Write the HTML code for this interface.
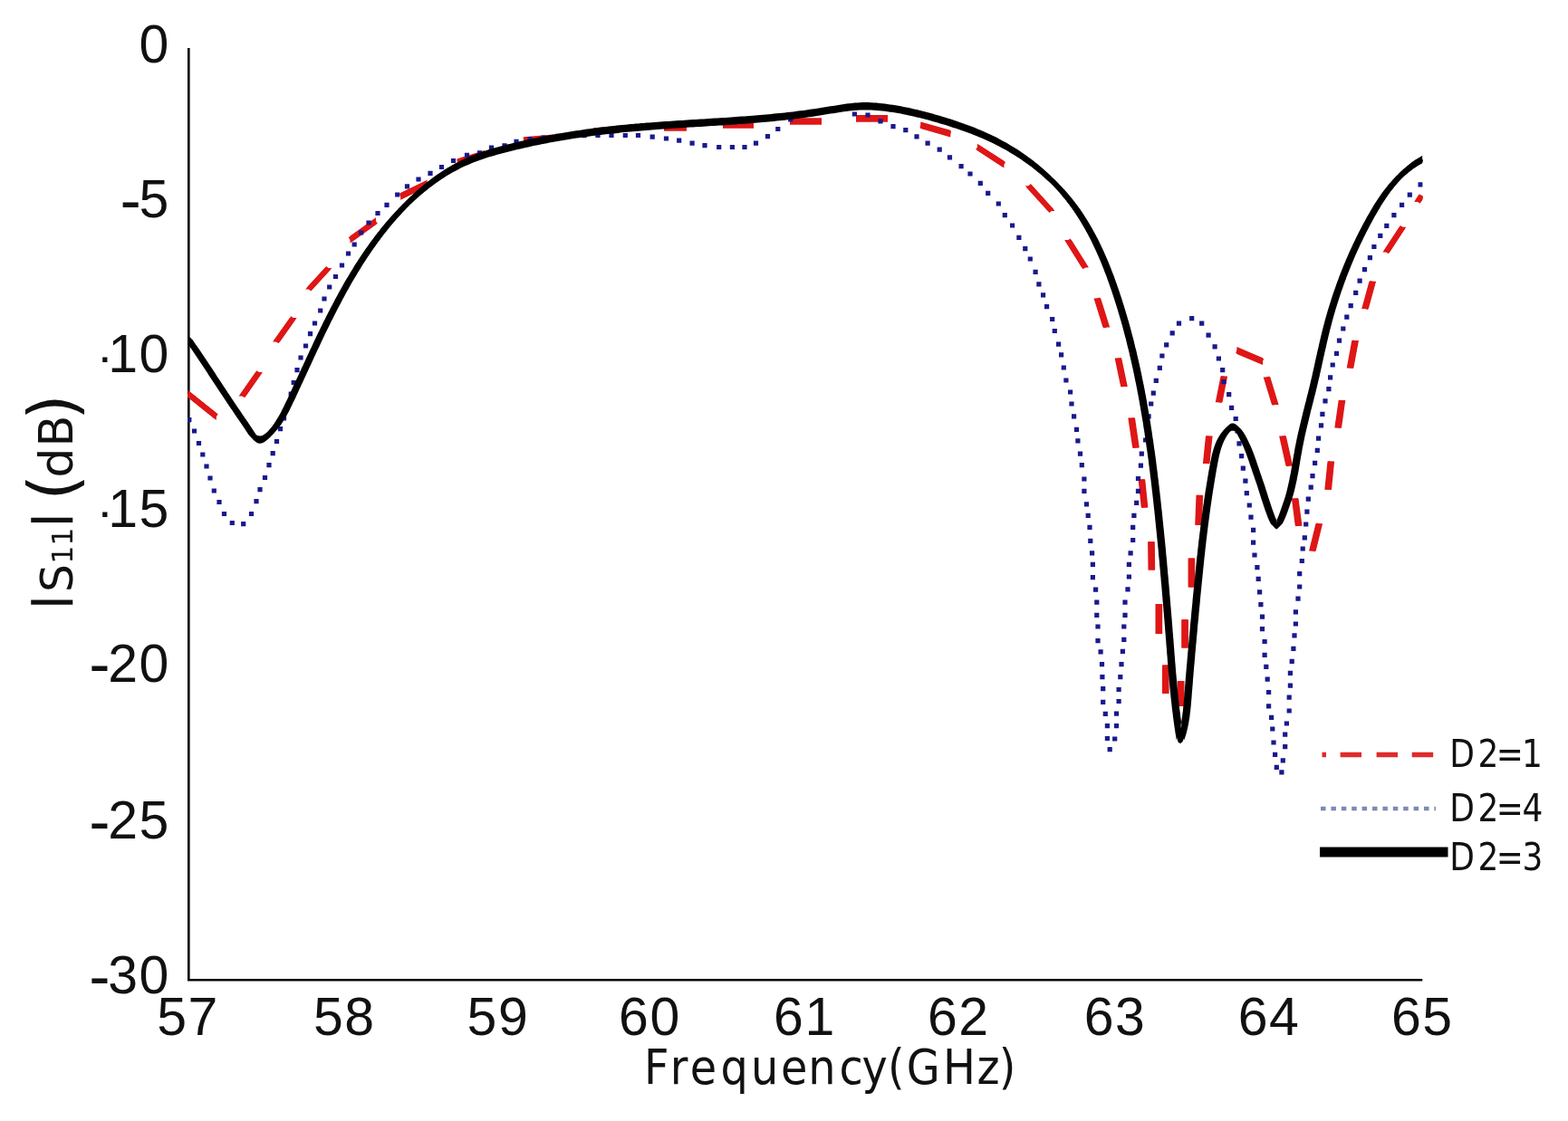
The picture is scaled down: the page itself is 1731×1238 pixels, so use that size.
<!DOCTYPE html>
<html lang="en"><head><meta charset="utf-8"><title>Chart</title>
<style>html,body{margin:0;padding:0;background:#fff}body{width:1731px;height:1238px;overflow:hidden}svg{display:block}.t{font-family:"Liberation Sans",Arial,sans-serif;font-size:59px;fill:#111}.l{font-family:"DejaVu Sans","Liberation Sans",sans-serif;fill:#111}</style></head><body>
<svg width="1731" height="1238" viewBox="0 0 1731 1238">
<rect width="1731" height="1238" fill="#fff"/>
<path d="M208.3 53.0V1082.3H1570.3" fill="none" stroke="#000" stroke-width="2.6" stroke-linejoin="miter"/>
<clipPath id="p"><rect x="207" y="40" width="1363.6" height="1041"/></clipPath>
<g clip-path="url(#p)">
<path d="M207.5 431.1L238.8 456.1L238.8 463.9L207.5 438.9ZM263.6 437.5L282.1 411.0L289.9 411.0L271.4 437.5ZM301.1 377.5L319.9 351.0L327.6 351.0L308.9 377.5ZM337.1 319.5L358.6 296.0L366.4 296.0L344.9 319.5ZM386.5 260.8L415.0 240.3L415.0 248.0L386.5 268.6ZM442.2 213.1L471.6 198.7L471.6 206.3L442.2 220.8ZM505.0 175.2L535.0 166.1L535.0 173.8L505.0 182.9ZM578.0 151.2L611.0 148.6L611.0 156.2L578.0 158.9ZM655.0 141.2L684.0 139.4L684.0 147.1L655.0 148.9ZM733.0 137.0L758.0 137.0L758.0 144.7L733.0 144.7ZM798.0 134.2L832.0 134.2L832.0 141.8L798.0 141.8ZM872.0 130.2L907.0 130.2L907.0 137.8L872.0 137.8ZM945.0 127.0L980.0 127.0L980.0 134.7L945.0 134.7ZM1016.3 134.4L1049.3 143.8L1049.3 151.5L1016.3 142.1ZM1078.9 158.7L1108.4 177.8L1108.4 185.4L1078.9 166.3ZM1131.8 205.2L1157.0 233.0L1164.6 233.0L1139.4 205.2ZM1175.2 265.1L1194.2 295.5L1201.9 295.5L1182.8 265.1ZM1207.5 329.4L1217.5 361.5L1225.2 361.5L1215.2 329.4ZM1230.6 395.6L1237.2 426.9L1244.8 426.9L1238.2 395.6ZM1245.3 461.6L1250.2 494.6L1257.8 494.6L1253.0 461.6ZM1256.6 529.4L1259.8 560.6L1267.4 560.6L1264.2 529.4ZM1267.1 598.2L1267.5 629.5L1275.2 629.5L1274.8 598.2ZM1275.5 666.9L1275.5 699.9L1283.2 699.9L1283.2 666.9ZM1283.0 734.6L1283.0 765.9L1290.6 765.9L1290.6 734.6ZM1299.8 780.0L1299.8 752.0L1307.5 752.0L1307.5 780.0ZM1304.2 715.5L1304.2 684.2L1311.9 684.2L1311.9 715.5ZM1311.6 648.6L1311.6 616.5L1319.2 616.5L1319.2 648.6ZM1319.2 579.8L1320.5 546.8L1328.2 546.8L1326.8 579.8ZM1327.9 512.0L1331.0 481.6L1338.6 481.6L1335.5 512.0ZM1341.8 444.3L1347.5 415.6L1355.1 415.6L1349.5 444.3ZM1365.4 383.1L1394.0 395.2L1394.0 403.0L1365.4 390.9ZM1394.7 416.5L1404.0 446.9L1411.6 446.9L1402.3 416.5ZM1412.1 481.6L1419.5 514.6L1427.2 514.6L1419.8 481.6ZM1425.9 550.4L1429.8 580.8L1437.5 580.8L1433.5 550.4ZM1445.0 608.6L1452.5 578.2L1460.1 578.2L1452.7 608.6ZM1462.3 540.8L1465.5 509.6L1473.1 509.6L1470.0 540.8ZM1473.3 472.5L1477.7 442.1L1485.3 442.1L1481.0 472.5ZM1486.7 406.5L1492.3 376.1L1500.0 376.1L1494.3 406.5ZM1503.2 341.1L1511.5 310.7L1519.1 310.7L1510.8 341.1ZM1526.5 278.5L1544.7 250.7L1552.3 250.7L1534.1 278.5ZM1561.2 223.0L1565.7 216.0L1573.3 216.0L1568.8 223.0Z" fill="#df1616"/>
<path d="M207.5 435.0L238.8 460.0M267.5 437.5L286.0 411.0M305.0 377.5L323.8 351.0M341.0 319.5L362.5 296.0M386.5 264.7L415.0 244.2M442.2 216.9L471.6 202.5M505.0 179.1L535.0 169.9M578.0 155.1L611.0 152.4M655.0 145.1L684.0 143.2M733.0 140.8L758.0 140.8M798.0 138.0L832.0 138.0M872.0 134.0L907.0 134.0M945.0 130.8L980.0 130.8M1016.3 138.2L1049.3 147.7M1078.9 162.5L1108.4 181.6M1135.6 205.2L1160.8 233.0M1179.0 265.1L1198.1 295.5M1211.3 329.4L1221.4 361.5M1234.4 395.6L1241.0 426.9M1249.1 461.6L1254.0 494.6M1260.4 529.4L1263.6 560.6M1270.9 598.2L1271.4 629.5M1279.3 666.9L1279.3 699.9M1286.8 734.6L1286.8 765.9M1303.7 780.0L1303.7 752.0M1308.1 715.5L1308.1 684.2M1315.4 648.6L1315.4 616.5M1323.0 579.8L1324.4 546.8M1331.7 512.0L1334.8 481.6M1345.6 444.3L1351.3 415.6M1365.4 387.0L1394.0 399.1M1398.5 416.5L1407.8 446.9M1415.9 481.6L1423.4 514.6M1429.7 550.4L1433.7 580.8M1448.8 608.6L1456.3 578.2M1466.1 540.8L1469.3 509.6M1477.1 472.5L1481.5 442.1M1490.5 406.5L1496.2 376.1M1507.0 341.1L1515.3 310.7M1530.3 278.5L1548.5 250.7M1565.0 223.0L1569.5 216.0" fill="none" stroke="#df1616" stroke-width="6.2"/>
<path d="M206.2 461.1h5.2v5.2h-5.2zM211.9 473.4h5.2v5.2h-5.2zM216.9 486.9h5.2v5.2h-5.2zM221.2 499.4h5.2v5.2h-5.2zM225.4 512.4h5.2v5.2h-5.2zM229.4 525.4h5.2v5.2h-5.2zM233.7 539.4h5.2v5.2h-5.2zM239.4 551.9h5.2v5.2h-5.2zM244.9 564.9h5.2v5.2h-5.2zM253.7 574.9h5.2v5.2h-5.2zM266.1 576.1h5.2v5.2h-5.2zM274.9 564.9h5.2v5.2h-5.2zM280.4 551.1h5.2v5.2h-5.2zM284.4 538.1h5.2v5.2h-5.2zM289.9 524.9h5.2v5.2h-5.2zM294.4 511.1h5.2v5.2h-5.2zM298.6 498.1h5.2v5.2h-5.2zM302.9 484.9h5.2v5.2h-5.2zM306.9 471.1h5.2v5.2h-5.2zM310.9 459.4h5.2v5.2h-5.2zM314.9 447.4h5.2v5.2h-5.2zM318.6 432.4h5.2v5.2h-5.2zM321.6 419.9h5.2v5.2h-5.2zM325.4 406.1h5.2v5.2h-5.2zM329.4 392.4h5.2v5.2h-5.2zM334.9 379.4h5.2v5.2h-5.2zM339.9 366.1h5.2v5.2h-5.2zM344.9 354.4h5.2v5.2h-5.2zM351.1 340.4h5.2v5.2h-5.2zM355.4 327.4h5.2v5.2h-5.2zM361.1 314.4h5.2v5.2h-5.2zM367.9 302.9h5.2v5.2h-5.2zM374.9 290.4h5.2v5.2h-5.2zM381.9 277.4h5.2v5.2h-5.2zM388.6 267.4h5.2v5.2h-5.2zM396.1 254.4h5.2v5.2h-5.2zM404.4 243.4h5.2v5.2h-5.2zM414.4 232.9h5.2v5.2h-5.2zM424.4 223.7h5.2v5.2h-5.2zM436.1 212.4h5.2v5.2h-5.2zM446.9 203.2h5.2v5.2h-5.2zM459.4 195.4h5.2v5.2h-5.2zM472.4 188.7h5.2v5.2h-5.2zM484.9 181.9h5.2v5.2h-5.2zM497.9 174.9h5.2v5.2h-5.2zM512.9 168.7h5.2v5.2h-5.2zM526.9 166.2h5.2v5.2h-5.2zM539.9 160.4h5.2v5.2h-5.2zM554.4 158.2h5.2v5.2h-5.2zM567.4 153.7h5.2v5.2h-5.2zM582.4 150.9h5.2v5.2h-5.2zM597.4 149.4h5.2v5.2h-5.2zM613.0 147.7h5.2v5.2h-5.2zM627.4 147.4h5.2v5.2h-5.2zM642.4 147.1h5.2v5.2h-5.2zM657.4 146.9h5.2v5.2h-5.2zM672.4 146.9h5.2v5.2h-5.2zM687.7 146.9h5.2v5.2h-5.2zM701.9 146.9h5.2v5.2h-5.2zM717.6 148.6h5.2v5.2h-5.2zM732.9 150.4h5.2v5.2h-5.2zM747.1 152.6h5.2v5.2h-5.2zM761.5 155.5h5.2v5.2h-5.2zM775.4 158.1h5.2v5.2h-5.2zM791.1 159.9h5.2v5.2h-5.2zM805.8 159.9h5.2v5.2h-5.2zM819.4 159.9h5.2v5.2h-5.2zM831.9 155.5h5.2v5.2h-5.2zM844.9 148.1h5.2v5.2h-5.2zM856.2 139.9h5.2v5.2h-5.2zM870.1 129.4h5.2v5.2h-5.2zM940.8 123.4h5.2v5.2h-5.2zM955.4 124.4h5.2v5.2h-5.2zM969.4 131.2h5.2v5.2h-5.2zM983.4 137.0h5.2v5.2h-5.2zM997.2 141.1h5.2v5.2h-5.2zM1009.4 148.2h5.2v5.2h-5.2zM1021.5 155.5h5.2v5.2h-5.2zM1034.6 162.5h5.2v5.2h-5.2zM1045.9 171.2h5.2v5.2h-5.2zM1058.5 181.1h5.2v5.2h-5.2zM1068.4 189.4h5.2v5.2h-5.2zM1079.7 199.8h5.2v5.2h-5.2zM1088.1 210.8h5.2v5.2h-5.2zM1099.7 222.4h5.2v5.2h-5.2zM1106.7 235.1h5.2v5.2h-5.2zM1115.0 246.4h5.2v5.2h-5.2zM1122.3 259.8h5.2v5.2h-5.2zM1129.2 272.1h5.2v5.2h-5.2zM1134.7 283.4h5.2v5.2h-5.2zM1140.5 297.8h5.2v5.2h-5.2zM1144.3 311.2h5.2v5.2h-5.2zM1149.0 323.3h5.2v5.2h-5.2zM1153.0 336.0h5.2v5.2h-5.2zM1159.1 349.9h5.2v5.2h-5.2zM1161.7 362.9h5.2v5.2h-5.2zM1166.0 377.5h5.2v5.2h-5.2zM1169.0 389.3h5.2v5.2h-5.2zM1171.7 403.4h5.2v5.2h-5.2zM1174.3 417.4h5.2v5.2h-5.2zM1179.0 430.4h5.2v5.2h-5.2zM1180.4 443.4h5.2v5.2h-5.2zM1183.0 457.3h5.2v5.2h-5.2zM1185.9 471.7h5.2v5.2h-5.2zM1187.3 484.2h5.2v5.2h-5.2zM1189.9 498.6h5.2v5.2h-5.2zM1191.7 511.1h5.2v5.2h-5.2zM1194.3 526.4h5.2v5.2h-5.2zM1194.3 539.8h5.2v5.2h-5.2zM1196.9 554.2h5.2v5.2h-5.2zM1198.6 566.7h5.2v5.2h-5.2zM1200.4 579.8h5.2v5.2h-5.2zM1201.2 594.8h5.2v5.2h-5.2zM1203.0 608.3h5.2v5.2h-5.2zM1203.8 620.8h5.2v5.2h-5.2zM1203.8 635.1h5.2v5.2h-5.2zM1207.0 648.6h5.2v5.2h-5.2zM1208.2 662.5h5.2v5.2h-5.2zM1208.2 676.8h5.2v5.2h-5.2zM1209.4 689.4h5.2v5.2h-5.2zM1209.4 705.1h5.2v5.2h-5.2zM1212.5 717.2h5.2v5.2h-5.2zM1213.9 731.1h5.2v5.2h-5.2zM1214.3 745.0h5.2v5.2h-5.2zM1215.1 758.0h5.2v5.2h-5.2zM1215.1 772.8h5.2v5.2h-5.2zM1217.7 785.8h5.2v5.2h-5.2zM1219.8 799.0h5.2v5.2h-5.2zM1219.8 812.9h5.2v5.2h-5.2zM1222.6 825.1h5.2v5.2h-5.2zM1228.1 813.4h5.2v5.2h-5.2zM1229.9 799.0h5.2v5.2h-5.2zM1229.9 785.6h5.2v5.2h-5.2zM1232.5 771.9h5.2v5.2h-5.2zM1232.5 758.9h5.2v5.2h-5.2zM1234.2 745.0h5.2v5.2h-5.2zM1235.4 731.1h5.2v5.2h-5.2zM1236.8 716.7h5.2v5.2h-5.2zM1238.2 703.8h5.2v5.2h-5.2zM1238.2 689.4h5.2v5.2h-5.2zM1239.4 676.8h5.2v5.2h-5.2zM1239.4 662.5h5.2v5.2h-5.2zM1242.4 648.3h5.2v5.2h-5.2zM1243.8 634.4h5.2v5.2h-5.2zM1243.8 620.8h5.2v5.2h-5.2zM1245.5 608.3h5.2v5.2h-5.2zM1248.1 593.9h5.2v5.2h-5.2zM1248.1 579.8h5.2v5.2h-5.2zM1249.3 566.7h5.2v5.2h-5.2zM1252.1 552.8h5.2v5.2h-5.2zM1253.9 539.8h5.2v5.2h-5.2zM1253.9 525.9h5.2v5.2h-5.2zM1256.8 511.5h5.2v5.2h-5.2zM1257.7 498.6h5.2v5.2h-5.2zM1262.0 483.4h5.2v5.2h-5.2zM1263.9 470.4h5.2v5.2h-5.2zM1265.5 457.3h5.2v5.2h-5.2zM1268.1 443.4h5.2v5.2h-5.2zM1270.7 431.6h5.2v5.2h-5.2zM1273.7 417.7h5.2v5.2h-5.2zM1277.7 403.8h5.2v5.2h-5.2zM1280.3 390.4h5.2v5.2h-5.2zM1285.1 378.3h5.2v5.2h-5.2zM1291.6 365.3h5.2v5.2h-5.2zM1298.9 354.6h5.2v5.2h-5.2zM1313.1 349.0h5.2v5.2h-5.2zM1324.1 354.6h5.2v5.2h-5.2zM1331.5 367.6h5.2v5.2h-5.2zM1338.5 380.3h5.2v5.2h-5.2zM1342.8 393.4h5.2v5.2h-5.2zM1347.1 406.1h5.2v5.2h-5.2zM1348.4 419.1h5.2v5.2h-5.2zM1354.1 433.0h5.2v5.2h-5.2zM1357.0 447.7h5.2v5.2h-5.2zM1361.6 459.9h5.2v5.2h-5.2zM1363.4 473.4h5.2v5.2h-5.2zM1365.4 487.2h5.2v5.2h-5.2zM1368.0 501.1h5.2v5.2h-5.2zM1369.7 514.6h5.2v5.2h-5.2zM1372.3 528.5h5.2v5.2h-5.2zM1373.7 542.1h5.2v5.2h-5.2zM1376.7 555.4h5.2v5.2h-5.2zM1378.4 568.5h5.2v5.2h-5.2zM1381.0 582.7h5.2v5.2h-5.2zM1381.0 596.5h5.2v5.2h-5.2zM1382.4 610.4h5.2v5.2h-5.2zM1385.3 624.0h5.2v5.2h-5.2zM1386.6 636.8h5.2v5.2h-5.2zM1388.0 651.2h5.2v5.2h-5.2zM1389.3 665.1h5.2v5.2h-5.2zM1390.9 678.5h5.2v5.2h-5.2zM1390.9 692.0h5.2v5.2h-5.2zM1393.5 705.9h5.2v5.2h-5.2zM1393.5 720.7h5.2v5.2h-5.2zM1395.2 733.7h5.2v5.2h-5.2zM1396.6 747.6h5.2v5.2h-5.2zM1398.0 761.9h5.2v5.2h-5.2zM1398.0 777.2h5.2v5.2h-5.2zM1401.0 789.7h5.2v5.2h-5.2zM1402.2 802.4h5.2v5.2h-5.2zM1403.4 817.4h5.2v5.2h-5.2zM1405.0 830.8h5.2v5.2h-5.2zM1406.7 844.7h5.2v5.2h-5.2zM1412.3 850.3h5.2v5.2h-5.2zM1413.7 837.2h5.2v5.2h-5.2zM1416.1 822.1h5.2v5.2h-5.2zM1416.1 808.6h5.2v5.2h-5.2zM1417.8 796.4h5.2v5.2h-5.2zM1420.6 782.4h5.2v5.2h-5.2zM1420.6 767.6h5.2v5.2h-5.2zM1421.8 754.6h5.2v5.2h-5.2zM1421.8 740.7h5.2v5.2h-5.2zM1423.6 727.7h5.2v5.2h-5.2zM1425.3 713.8h5.2v5.2h-5.2zM1426.4 699.2h5.2v5.2h-5.2zM1427.8 686.4h5.2v5.2h-5.2zM1427.8 673.2h5.2v5.2h-5.2zM1430.4 658.6h5.2v5.2h-5.2zM1432.1 645.4h5.2v5.2h-5.2zM1432.1 631.1h5.2v5.2h-5.2zM1434.7 616.9h5.2v5.2h-5.2zM1435.6 603.4h5.2v5.2h-5.2zM1437.7 591.2h5.2v5.2h-5.2zM1439.1 576.4h5.2v5.2h-5.2zM1440.3 562.5h5.2v5.2h-5.2zM1441.7 548.6h5.2v5.2h-5.2zM1444.6 535.6h5.2v5.2h-5.2zM1446.4 523.1h5.2v5.2h-5.2zM1449.0 508.7h5.2v5.2h-5.2zM1451.7 494.7h5.2v5.2h-5.2zM1453.0 481.5h5.2v5.2h-5.2zM1455.9 467.3h5.2v5.2h-5.2zM1457.3 454.7h5.2v5.2h-5.2zM1460.4 440.3h5.2v5.2h-5.2zM1464.3 427.0h5.2v5.2h-5.2zM1466.0 414.3h5.2v5.2h-5.2zM1468.6 400.4h5.2v5.2h-5.2zM1472.9 387.7h5.2v5.2h-5.2zM1475.9 373.5h5.2v5.2h-5.2zM1480.2 360.4h5.2v5.2h-5.2zM1484.2 347.5h5.2v5.2h-5.2zM1488.6 335.0h5.2v5.2h-5.2zM1494.1 320.8h5.2v5.2h-5.2zM1498.5 307.6h5.2v5.2h-5.2zM1503.9 295.0h5.2v5.2h-5.2zM1509.8 282.0h5.2v5.2h-5.2zM1514.3 269.9h5.2v5.2h-5.2zM1521.2 257.7h5.2v5.2h-5.2zM1528.2 246.8h5.2v5.2h-5.2zM1536.3 235.1h5.2v5.2h-5.2zM1545.0 223.8h5.2v5.2h-5.2zM1553.7 212.5h5.2v5.2h-5.2zM1565.5 201.2h5.2v5.2h-5.2z" fill="#19198e"/>
<path d="M208.1 370.7L209.8 373.1L211.5 375.5L213.2 378.0L214.9 380.5L216.5 382.9L218.2 385.4L219.9 387.9L221.6 390.4L223.2 392.9L224.9 395.4L226.6 397.9L228.2 400.4L229.9 403.0L231.6 405.5L233.2 408.0L234.9 410.5L236.5 413.0L238.2 415.6L239.9 418.1L241.5 420.6L243.2 423.1L244.8 425.6L246.5 428.1L248.2 430.6L249.8 433.1L251.5 435.6L253.1 438.1L254.8 440.6L256.4 443.1L258.1 445.5L259.8 448.0L261.4 450.4L263.1 452.9L264.7 455.3L266.4 457.7L268.1 460.2L269.8 462.6L271.5 465.2L273.2 467.7L274.9 470.4L276.7 473.1L278.6 475.8L280.5 478.1L282.6 479.9L284.8 481.1L287.2 481.4L289.7 480.9L292.1 479.6L294.5 477.8L296.9 475.6L299.1 473.3L301.2 471.0L303.2 468.5L305.0 466.1L306.8 463.6L308.5 461.0L310.1 458.5L311.6 455.9L313.1 453.3L314.5 450.6L315.9 448.0L317.2 445.3L318.5 442.6L319.8 439.9L321.0 437.2L322.3 434.5L323.6 431.8L324.8 429.1L326.1 426.4L327.3 423.7L328.6 421.0L329.8 418.3L331.1 415.5L332.3 412.8L333.6 410.1L334.9 407.4L336.1 404.7L337.4 402.0L338.6 399.2L339.9 396.5L341.1 393.8L342.4 391.1L343.6 388.4L344.9 385.7L346.2 382.9L347.4 380.2L348.7 377.5L350.0 374.8L351.3 372.1L352.6 369.4L353.9 366.7L355.2 364.0L356.5 361.3L357.8 358.6L359.1 355.9L360.4 353.2L361.8 350.5L363.1 347.8L364.5 345.1L365.8 342.4L367.2 339.7L368.6 337.1L369.9 334.4L371.3 331.7L372.7 329.1L374.2 326.4L375.6 323.8L377.0 321.1L378.5 318.5L379.9 315.9L381.4 313.2L382.9 310.6L384.4 308.0L385.9 305.4L387.4 302.8L388.9 300.2L390.5 297.6L392.0 295.1L393.6 292.5L395.2 290.0L396.8 287.4L398.4 284.9L400.0 282.4L401.7 279.9L403.3 277.4L405.0 274.9L406.7 272.4L408.4 270.0L410.2 267.5L411.9 265.1L413.7 262.7L415.4 260.2L417.2 257.8L419.0 255.5L420.9 253.1L422.7 250.7L424.6 248.4L426.5 246.1L428.4 243.8L430.3 241.5L432.3 239.2L434.2 237.0L436.2 234.7L438.2 232.5L440.3 230.3L442.3 228.1L444.4 225.9L446.5 223.8L448.6 221.7L450.7 219.5L452.9 217.5L455.1 215.4L457.3 213.3L459.5 211.3L461.8 209.3L464.1 207.3L466.3 205.4L468.7 203.5L471.0 201.6L473.4 199.7L475.7 197.9L478.2 196.1L480.6 194.3L483.0 192.6L485.5 190.9L488.0 189.3L490.5 187.6L493.0 186.0L495.6 184.5L498.2 183.0L500.8 181.5L503.4 180.1L506.1 178.7L508.7 177.3L511.4 176.0L514.1 174.8L516.9 173.6L519.6 172.4L522.4 171.3L525.2 170.2L528.0 169.2L530.8 168.1L533.7 167.2L536.5 166.2L539.4 165.3L542.3 164.4L545.2 163.6L548.1 162.8L551.0 162.0L553.9 161.2L556.8 160.4L559.7 159.6L562.6 158.9L565.6 158.2L568.5 157.5L571.4 156.8L574.3 156.1L577.3 155.4L580.2 154.7L583.1 154.1L586.1 153.5L589.0 152.8L592.0 152.2L594.9 151.6L597.9 151.0L600.8 150.4L603.7 149.9L606.7 149.3L609.6 148.8L612.6 148.2L615.6 147.7L618.5 147.2L621.5 146.7L624.4 146.2L627.4 145.7L630.3 145.2L633.3 144.8L636.3 144.3L639.2 143.9L642.2 143.4L645.2 143.0L648.1 142.6L651.1 142.2L654.1 141.8L657.0 141.4L660.0 141.0L663.0 140.6L666.0 140.3L668.9 139.9L671.9 139.6L674.9 139.3L677.9 138.9L680.9 138.6L683.8 138.3L686.8 138.0L689.8 137.7L692.8 137.4L695.8 137.1L698.8 136.9L701.7 136.6L704.7 136.4L707.7 136.1L710.7 135.9L713.7 135.6L716.7 135.4L719.7 135.2L722.7 134.9L725.7 134.7L728.7 134.5L731.7 134.3L734.7 134.1L737.6 133.9L740.6 133.7L743.6 133.5L746.6 133.3L749.6 133.1L752.6 132.9L755.6 132.7L758.6 132.5L761.6 132.3L764.6 132.1L767.6 131.9L770.6 131.8L773.6 131.6L776.6 131.4L779.6 131.2L782.6 131.0L785.6 130.8L788.6 130.6L791.6 130.5L794.6 130.3L797.6 130.1L800.6 129.9L803.6 129.7L806.6 129.5L809.6 129.3L812.5 129.1L815.5 128.8L818.5 128.6L821.5 128.4L824.5 128.2L827.5 127.9L830.5 127.7L833.5 127.5L836.5 127.2L839.5 127.0L842.5 126.7L845.5 126.4L848.4 126.2L851.4 125.9L854.4 125.6L857.4 125.3L860.4 125.0L863.4 124.7L866.3 124.4L869.3 124.0L872.3 123.7L875.3 123.4L878.3 123.0L881.2 122.6L884.2 122.2L887.2 121.9L890.2 121.5L893.1 121.0L896.1 120.6L899.1 120.2L902.0 119.7L905.0 119.3L908.0 118.8L910.9 118.3L913.9 117.8L916.9 117.3L919.8 116.9L922.8 116.4L925.7 115.9L928.7 115.4L931.7 115.0L934.6 114.6L937.6 114.2L940.6 113.9L943.6 113.6L946.5 113.4L949.5 113.2L952.5 113.1L955.5 113.1L958.5 113.1L961.6 113.2L964.6 113.4L967.6 113.6L970.6 113.9L973.6 114.2L976.6 114.5L979.6 114.9L982.6 115.4L985.6 115.8L988.5 116.3L991.5 116.8L994.5 117.3L997.4 117.9L1000.3 118.5L1003.3 119.1L1006.2 119.7L1009.1 120.4L1012.0 121.1L1014.9 121.8L1017.8 122.5L1020.7 123.2L1023.6 124.0L1026.5 124.8L1029.4 125.6L1032.3 126.4L1035.1 127.2L1038.0 128.1L1040.9 129.0L1043.7 129.8L1046.6 130.7L1049.5 131.6L1052.3 132.6L1055.2 133.5L1058.0 134.5L1060.8 135.4L1063.7 136.4L1066.5 137.4L1069.3 138.5L1072.1 139.5L1074.9 140.6L1077.7 141.7L1080.5 142.9L1083.2 144.0L1086.0 145.2L1088.7 146.4L1091.5 147.7L1094.2 149.0L1096.9 150.3L1099.6 151.6L1102.3 153.0L1104.9 154.4L1107.6 155.9L1110.2 157.3L1112.8 158.8L1115.4 160.4L1118.0 161.9L1120.6 163.5L1123.1 165.1L1125.7 166.8L1128.2 168.5L1130.6 170.2L1133.1 171.9L1135.5 173.7L1138.0 175.5L1140.4 177.3L1142.7 179.2L1145.1 181.1L1147.4 183.0L1149.7 184.9L1152.0 186.9L1154.2 188.9L1156.4 190.9L1158.6 192.9L1160.8 195.0L1162.9 197.1L1165.1 199.2L1167.1 201.4L1169.2 203.6L1171.2 205.8L1173.2 208.0L1175.1 210.2L1177.1 212.5L1179.0 214.8L1180.8 217.2L1182.7 219.5L1184.4 221.9L1186.2 224.3L1187.9 226.7L1189.6 229.1L1191.3 231.6L1192.9 234.1L1194.6 236.6L1196.1 239.1L1197.7 241.7L1199.2 244.2L1200.7 246.8L1202.2 249.4L1203.6 252.0L1205.1 254.7L1206.4 257.3L1207.8 260.0L1209.2 262.6L1210.5 265.3L1211.8 268.0L1213.1 270.8L1214.3 273.5L1215.5 276.2L1216.7 279.0L1217.9 281.8L1219.1 284.6L1220.3 287.3L1221.4 290.1L1222.5 292.9L1223.6 295.8L1224.7 298.6L1225.7 301.4L1226.8 304.3L1227.8 307.1L1228.8 309.9L1229.8 312.8L1230.8 315.7L1231.7 318.5L1232.7 321.4L1233.6 324.3L1234.5 327.1L1235.5 330.0L1236.4 332.9L1237.2 335.8L1238.1 338.6L1239.0 341.5L1239.8 344.4L1240.7 347.3L1241.5 350.2L1242.3 353.1L1243.1 356.0L1243.9 358.9L1244.7 361.8L1245.5 364.7L1246.3 367.6L1247.0 370.5L1247.7 373.4L1248.5 376.3L1249.2 379.2L1249.9 382.1L1250.6 385.1L1251.3 388.0L1252.0 390.9L1252.6 393.8L1253.3 396.7L1254.0 399.7L1254.6 402.6L1255.2 405.5L1255.9 408.4L1256.5 411.4L1257.1 414.3L1257.7 417.2L1258.3 420.2L1258.8 423.1L1259.4 426.1L1260.0 429.0L1260.5 431.9L1261.1 434.9L1261.6 437.8L1262.1 440.8L1262.7 443.7L1263.2 446.7L1263.7 449.6L1264.2 452.6L1264.7 455.5L1265.2 458.5L1265.7 461.5L1266.1 464.4L1266.6 467.4L1267.1 470.3L1267.5 473.3L1268.0 476.3L1268.4 479.2L1268.8 482.2L1269.3 485.2L1269.7 488.1L1270.1 491.1L1270.5 494.1L1270.9 497.0L1271.3 500.0L1271.7 503.0L1272.1 505.9L1272.5 508.9L1272.9 511.9L1273.2 514.9L1273.6 517.8L1274.0 520.8L1274.3 523.8L1274.7 526.8L1275.1 529.8L1275.4 532.7L1275.8 535.7L1276.1 538.7L1276.4 541.7L1276.8 544.7L1277.1 547.6L1277.4 550.6L1277.8 553.6L1278.1 556.6L1278.4 559.6L1278.7 562.6L1279.0 565.6L1279.4 568.5L1279.7 571.5L1280.0 574.5L1280.3 577.5L1280.6 580.5L1280.9 583.5L1281.2 586.5L1281.5 589.5L1281.8 592.4L1282.0 595.4L1282.3 598.4L1282.6 601.4L1282.9 604.4L1283.2 607.4L1283.5 610.4L1283.7 613.4L1284.0 616.4L1284.3 619.4L1284.6 622.4L1284.8 625.3L1285.1 628.3L1285.4 631.3L1285.6 634.3L1285.9 637.3L1286.1 640.3L1286.4 643.3L1286.7 646.3L1286.9 649.3L1287.2 652.3L1287.4 655.3L1287.7 658.3L1287.9 661.2L1288.2 664.2L1288.4 667.2L1288.7 670.2L1288.9 673.2L1289.2 676.2L1289.4 679.2L1289.6 682.2L1289.9 685.2L1290.1 688.2L1290.4 691.2L1290.6 694.2L1290.8 697.2L1291.1 700.1L1291.3 703.1L1291.5 706.1L1291.8 709.1L1292.0 712.1L1292.2 715.1L1292.5 718.1L1292.7 721.1L1292.9 724.1L1293.2 727.1L1293.4 730.1L1293.7 733.0L1293.9 736.0L1294.2 739.0L1294.4 742.0L1294.7 745.0L1295.0 748.0L1295.2 751.0L1295.5 753.9L1295.8 756.9L1296.1 759.9L1296.4 762.9L1296.7 765.9L1297.0 768.9L1297.3 771.8L1297.6 774.8L1298.0 777.8L1298.3 780.8L1298.7 783.7L1299.1 786.7L1299.5 789.7L1299.9 792.7L1300.3 795.6L1300.7 798.6L1301.1 801.6L1301.6 804.6L1302.0 807.5L1302.5 810.5L1303.0 813.5L1304.0 810.6L1304.9 807.7L1305.7 804.8L1306.5 801.8L1307.1 798.9L1307.7 796.0L1308.3 793.0L1308.8 790.1L1309.2 787.1L1309.6 784.2L1310.0 781.2L1310.3 778.2L1310.6 775.3L1310.8 772.3L1311.1 769.3L1311.3 766.3L1311.6 763.3L1311.8 760.3L1312.0 757.3L1312.3 754.3L1312.5 751.3L1312.7 748.3L1313.0 745.3L1313.2 742.3L1313.5 739.3L1313.7 736.3L1314.0 733.3L1314.2 730.3L1314.5 727.3L1314.8 724.3L1315.0 721.3L1315.3 718.3L1315.6 715.3L1315.8 712.2L1316.1 709.2L1316.4 706.2L1316.6 703.2L1316.9 700.2L1317.2 697.2L1317.4 694.2L1317.7 691.2L1318.0 688.2L1318.3 685.2L1318.5 682.2L1318.8 679.2L1319.1 676.2L1319.4 673.2L1319.7 670.2L1319.9 667.2L1320.2 664.2L1320.5 661.2L1320.8 658.2L1321.1 655.2L1321.4 652.2L1321.7 649.3L1321.9 646.3L1322.2 643.3L1322.5 640.3L1322.8 637.3L1323.1 634.4L1323.4 631.4L1323.7 628.4L1324.0 625.4L1324.3 622.4L1324.6 619.5L1324.9 616.5L1325.3 613.5L1325.6 610.5L1325.9 607.6L1326.2 604.6L1326.6 601.6L1326.9 598.6L1327.2 595.7L1327.6 592.7L1327.9 589.7L1328.3 586.7L1328.7 583.8L1329.0 580.8L1329.4 577.8L1329.8 574.8L1330.1 571.9L1330.5 568.9L1330.9 565.9L1331.3 562.9L1331.7 559.9L1332.2 556.9L1332.6 554.0L1333.0 551.0L1333.4 548.0L1333.9 545.0L1334.3 542.0L1334.8 539.0L1335.3 536.0L1335.7 533.0L1336.2 530.0L1336.7 527.0L1337.2 524.0L1337.7 521.0L1338.2 518.0L1338.8 515.0L1339.3 511.9L1339.9 508.9L1340.4 505.9L1341.0 502.9L1341.7 499.9L1342.4 497.0L1343.1 494.1L1344.0 491.2L1344.9 488.4L1346.0 485.6L1347.1 482.9L1348.4 480.3L1349.9 477.8L1351.4 475.4L1353.2 473.1L1355.1 470.9L1357.2 468.8L1359.5 467.5L1362.0 467.5L1364.5 468.8L1366.8 470.9L1368.7 473.5L1370.4 476.4L1372.0 479.3L1373.5 482.2L1374.9 485.1L1376.2 487.9L1377.4 490.6L1378.5 493.4L1379.6 496.1L1380.6 498.8L1381.6 501.5L1382.5 504.3L1383.5 507.0L1384.4 509.8L1385.3 512.6L1386.3 515.4L1387.3 518.3L1388.3 521.2L1389.3 524.1L1390.3 527.0L1391.2 530.0L1392.2 532.9L1393.1 535.7L1394.1 538.6L1394.9 541.4L1395.8 544.2L1396.7 547.0L1397.6 549.8L1398.5 552.6L1399.5 555.5L1400.5 558.3L1401.5 561.3L1402.6 564.2L1403.8 567.3L1405.1 570.4L1406.4 573.3L1407.9 575.4L1409.4 576.1L1410.9 574.9L1412.5 572.5L1413.9 569.6L1415.1 566.6L1416.3 563.6L1417.4 560.6L1418.5 557.6L1419.5 554.8L1420.5 551.9L1421.5 549.1L1422.4 546.3L1423.2 543.5L1424.0 540.6L1424.8 537.8L1425.5 534.9L1426.1 532.0L1426.8 529.1L1427.4 526.1L1428.0 523.2L1428.6 520.2L1429.1 517.3L1429.6 514.3L1430.2 511.3L1430.7 508.4L1431.2 505.4L1431.7 502.4L1432.2 499.4L1432.7 496.4L1433.2 493.5L1433.8 490.5L1434.3 487.5L1434.9 484.6L1435.5 481.6L1436.2 478.7L1436.8 475.7L1437.5 472.8L1438.1 469.9L1438.8 466.9L1439.5 464.0L1440.2 461.1L1440.9 458.2L1441.6 455.2L1442.4 452.3L1443.1 449.4L1443.8 446.5L1444.6 443.6L1445.3 440.7L1446.0 437.8L1446.8 434.9L1447.5 432.0L1448.2 429.1L1449.0 426.1L1449.7 423.2L1450.4 420.3L1451.1 417.4L1451.7 414.5L1452.4 411.5L1453.1 408.6L1453.7 405.7L1454.4 402.7L1455.0 399.8L1455.7 396.8L1456.3 393.9L1457.0 391.0L1457.6 388.0L1458.3 385.1L1458.9 382.1L1459.6 379.2L1460.3 376.3L1460.9 373.3L1461.6 370.4L1462.3 367.5L1463.0 364.6L1463.7 361.6L1464.5 358.7L1465.2 355.8L1466.0 352.9L1466.8 350.0L1467.6 347.1L1468.4 344.2L1469.2 341.3L1470.1 338.4L1470.9 335.6L1471.8 332.7L1472.7 329.8L1473.6 327.0L1474.5 324.1L1475.5 321.3L1476.5 318.4L1477.4 315.6L1478.4 312.7L1479.4 309.9L1480.5 307.1L1481.5 304.3L1482.6 301.5L1483.6 298.7L1484.7 295.9L1485.8 293.1L1487.0 290.3L1488.1 287.5L1489.3 284.7L1490.4 282.0L1491.6 279.2L1492.8 276.4L1494.1 273.7L1495.3 271.0L1496.6 268.2L1497.8 265.5L1499.1 262.8L1500.4 260.1L1501.8 257.4L1503.1 254.7L1504.5 252.0L1505.8 249.3L1507.2 246.6L1508.6 243.9L1510.1 241.3L1511.5 238.6L1513.0 236.0L1514.5 233.3L1516.0 230.7L1517.5 228.1L1519.0 225.5L1520.6 222.9L1522.2 220.4L1523.8 217.8L1525.5 215.3L1527.2 212.8L1528.9 210.4L1530.6 208.0L1532.4 205.6L1534.3 203.2L1536.1 200.9L1538.1 198.6L1540.0 196.4L1542.0 194.2L1544.1 192.0L1546.2 189.9L1548.3 187.8L1550.6 185.8L1552.8 183.9L1555.1 182.0L1557.5 180.1L1559.9 178.3L1562.4 176.6L1565.0 175.0L1567.6 173.4L1570.3 171.8L1570.3 180.2L1567.6 181.7L1565.0 183.3L1562.4 184.9L1559.9 186.6L1557.5 188.4L1555.1 190.3L1552.8 192.2L1550.6 194.1L1548.3 196.1L1546.2 198.2L1544.1 200.3L1542.0 202.5L1540.0 204.7L1538.1 206.9L1536.1 209.2L1534.3 211.5L1532.4 213.9L1530.6 216.3L1528.9 218.7L1527.2 221.1L1525.5 223.6L1523.8 226.1L1522.2 228.7L1520.6 231.2L1519.0 233.8L1517.5 236.4L1516.0 239.0L1514.5 241.6L1513.0 244.3L1511.5 246.9L1510.1 249.6L1508.6 252.2L1507.2 254.9L1505.8 257.6L1504.5 260.3L1503.1 263.0L1501.8 265.7L1500.4 268.4L1499.1 271.1L1497.8 273.8L1496.6 276.5L1495.3 279.3L1494.1 282.0L1492.8 284.7L1491.6 287.5L1490.4 290.3L1489.3 293.0L1488.1 295.8L1487.0 298.6L1485.8 301.4L1484.7 304.2L1483.6 307.0L1482.6 309.8L1481.5 312.6L1480.5 315.4L1479.4 318.2L1478.4 321.0L1477.4 323.9L1476.5 326.7L1475.5 329.6L1474.5 332.4L1473.6 335.3L1472.7 338.1L1471.8 341.0L1470.9 343.9L1470.1 346.7L1469.2 349.6L1468.4 352.5L1467.6 355.4L1466.8 358.3L1466.0 361.2L1465.2 364.1L1464.5 367.0L1463.7 369.9L1463.0 372.9L1462.3 375.8L1461.6 378.7L1460.9 381.6L1460.3 384.6L1459.6 387.5L1458.9 390.4L1458.3 393.4L1457.6 396.3L1457.0 399.3L1456.3 402.2L1455.7 405.1L1455.0 408.1L1454.4 411.0L1453.7 414.0L1453.1 416.9L1452.4 419.8L1451.7 422.8L1451.1 425.7L1450.4 428.6L1449.7 431.5L1449.0 434.4L1448.2 437.4L1447.5 440.3L1446.8 443.2L1446.0 446.1L1445.3 449.0L1444.6 451.9L1443.8 454.8L1443.1 457.7L1442.4 460.6L1441.6 463.5L1440.9 466.5L1440.2 469.4L1439.5 472.3L1438.8 475.2L1438.1 478.2L1437.5 481.1L1436.8 484.0L1436.2 487.0L1435.5 489.9L1434.9 492.9L1434.3 495.8L1433.8 498.8L1433.2 501.8L1432.7 504.7L1432.2 507.7L1431.7 510.7L1431.2 513.7L1430.7 516.7L1430.2 519.6L1429.6 522.6L1429.1 525.6L1428.6 528.5L1428.0 531.5L1427.4 534.4L1426.8 537.4L1426.1 540.3L1425.5 543.2L1424.8 546.1L1424.0 548.9L1423.2 551.8L1422.4 554.6L1421.5 557.4L1420.5 560.2L1419.5 563.1L1418.5 565.9L1417.4 568.9L1416.3 571.9L1415.1 574.9L1413.9 577.9L1412.5 580.8L1410.9 583.2L1409.4 584.4L1407.9 583.7L1406.4 581.6L1405.1 578.7L1403.8 575.6L1402.6 572.5L1401.5 569.6L1400.5 566.6L1399.5 563.8L1398.5 560.9L1397.6 558.1L1396.7 555.3L1395.8 552.5L1394.9 549.7L1394.1 546.9L1393.1 544.0L1392.2 541.2L1391.2 538.3L1390.3 535.3L1389.3 532.4L1388.3 529.5L1387.3 526.6L1386.3 523.7L1385.3 520.9L1384.4 518.1L1383.5 515.3L1382.5 512.6L1381.6 509.8L1380.6 507.1L1379.6 504.4L1378.5 501.7L1377.4 498.9L1376.2 496.2L1374.9 493.4L1373.5 490.5L1372.0 487.6L1370.4 484.7L1368.7 481.8L1366.8 479.2L1364.5 477.1L1362.0 475.8L1359.5 475.8L1357.2 477.1L1355.1 479.2L1353.2 481.4L1351.4 483.7L1349.9 486.1L1348.4 488.6L1347.1 491.2L1346.0 493.9L1344.9 496.7L1344.0 499.5L1343.1 502.4L1342.4 505.3L1341.7 508.2L1341.0 511.2L1340.4 514.2L1339.9 517.2L1339.3 520.2L1338.8 523.3L1338.2 526.3L1337.7 529.3L1337.2 532.3L1336.7 535.3L1336.2 538.3L1335.7 541.3L1335.3 544.3L1334.8 547.3L1334.3 550.3L1333.9 553.3L1333.4 556.3L1333.0 559.3L1332.6 562.3L1332.2 565.2L1331.7 568.2L1331.3 571.2L1330.9 574.2L1330.5 577.2L1330.1 580.2L1329.8 583.1L1329.4 586.1L1329.0 589.1L1328.7 592.1L1328.3 595.0L1327.9 598.0L1327.6 601.0L1327.2 604.0L1326.9 606.9L1326.6 609.9L1326.2 612.9L1325.9 615.9L1325.6 618.8L1325.3 621.8L1324.9 624.8L1324.6 627.8L1324.3 630.7L1324.0 633.7L1323.7 636.7L1323.4 639.7L1323.1 642.7L1322.8 645.6L1322.5 648.6L1322.2 651.6L1321.9 654.6L1321.7 657.6L1321.4 660.5L1321.1 663.5L1320.8 666.5L1320.5 669.5L1320.2 672.5L1319.9 675.5L1319.7 678.5L1319.4 681.5L1319.1 684.5L1318.8 687.5L1318.5 690.5L1318.3 693.5L1318.0 696.5L1317.7 699.5L1317.4 702.5L1317.2 705.5L1316.9 708.5L1316.6 711.5L1316.4 714.5L1316.1 717.5L1315.8 720.5L1315.6 723.6L1315.3 726.6L1315.0 729.6L1314.8 732.6L1314.5 735.6L1314.2 738.6L1314.0 741.6L1313.7 744.6L1313.5 747.6L1313.2 750.6L1313.0 753.6L1312.7 756.6L1312.5 759.6L1312.3 762.6L1312.0 765.6L1311.8 768.6L1311.6 771.6L1311.3 774.6L1311.1 777.6L1310.8 780.6L1310.6 783.6L1310.3 786.5L1310.0 789.5L1309.6 792.5L1309.2 795.4L1308.8 798.4L1308.3 801.3L1307.7 804.3L1307.1 807.2L1306.5 810.1L1305.7 813.1L1304.9 816.0L1304.0 818.9L1303.0 821.8L1302.5 818.8L1302.0 815.8L1301.6 812.9L1301.1 809.9L1300.7 806.9L1300.3 803.9L1299.9 801.0L1299.5 798.0L1299.1 795.0L1298.7 792.0L1298.3 789.1L1298.0 786.1L1297.6 783.1L1297.3 780.1L1297.0 777.2L1296.7 774.2L1296.4 771.2L1296.1 768.2L1295.8 765.2L1295.5 762.2L1295.2 759.3L1295.0 756.3L1294.7 753.3L1294.4 750.3L1294.2 747.3L1293.9 744.3L1293.7 741.3L1293.4 738.4L1293.2 735.4L1292.9 732.4L1292.7 729.4L1292.5 726.4L1292.2 723.4L1292.0 720.4L1291.8 717.4L1291.5 714.4L1291.3 711.4L1291.1 708.4L1290.8 705.5L1290.6 702.5L1290.4 699.5L1290.1 696.5L1289.9 693.5L1289.6 690.5L1289.4 687.5L1289.2 684.5L1288.9 681.5L1288.7 678.5L1288.4 675.5L1288.2 672.5L1287.9 669.5L1287.7 666.6L1287.4 663.6L1287.2 660.6L1286.9 657.6L1286.7 654.6L1286.4 651.6L1286.1 648.6L1285.9 645.6L1285.6 642.6L1285.4 639.6L1285.1 636.6L1284.8 633.6L1284.6 630.7L1284.3 627.7L1284.0 624.7L1283.7 621.7L1283.5 618.7L1283.2 615.7L1282.9 612.7L1282.6 609.7L1282.3 606.7L1282.0 603.7L1281.8 600.7L1281.5 597.8L1281.2 594.8L1280.9 591.8L1280.6 588.8L1280.3 585.8L1280.0 582.8L1279.7 579.8L1279.4 576.8L1279.0 573.9L1278.7 570.9L1278.4 567.9L1278.1 564.9L1277.8 561.9L1277.4 558.9L1277.1 555.9L1276.8 553.0L1276.4 550.0L1276.1 547.0L1275.8 544.0L1275.4 541.0L1275.1 538.1L1274.7 535.1L1274.3 532.1L1274.0 529.1L1273.6 526.1L1273.2 523.2L1272.9 520.2L1272.5 517.2L1272.1 514.2L1271.7 511.3L1271.3 508.3L1270.9 505.3L1270.5 502.4L1270.1 499.4L1269.7 496.4L1269.3 493.5L1268.8 490.5L1268.4 487.5L1268.0 484.6L1267.5 481.6L1267.1 478.6L1266.6 475.7L1266.1 472.7L1265.7 469.8L1265.2 466.8L1264.7 463.8L1264.2 460.9L1263.7 457.9L1263.2 455.0L1262.7 452.0L1262.1 449.1L1261.6 446.1L1261.1 443.2L1260.5 440.2L1260.0 437.3L1259.4 434.4L1258.8 431.4L1258.3 428.5L1257.7 425.5L1257.1 422.6L1256.5 419.7L1255.9 416.7L1255.2 413.8L1254.6 410.9L1254.0 408.0L1253.3 405.0L1252.6 402.1L1252.0 399.2L1251.3 396.3L1250.6 393.4L1249.9 390.4L1249.2 387.5L1248.5 384.6L1247.7 381.7L1247.0 378.8L1246.3 375.9L1245.5 373.0L1244.7 370.1L1243.9 367.2L1243.1 364.3L1242.3 361.4L1241.5 358.5L1240.7 355.6L1239.8 352.7L1239.0 349.8L1238.1 346.9L1237.2 344.1L1236.4 341.2L1235.5 338.3L1234.5 335.4L1233.6 332.6L1232.7 329.7L1231.7 326.8L1230.8 324.0L1229.8 321.1L1228.8 318.2L1227.8 315.4L1226.8 312.6L1225.7 309.7L1224.7 306.9L1223.6 304.1L1222.5 301.2L1221.4 298.4L1220.3 295.6L1219.1 292.9L1217.9 290.1L1216.7 287.3L1215.5 284.5L1214.3 281.8L1213.1 279.1L1211.8 276.3L1210.5 273.6L1209.2 270.9L1207.8 268.3L1206.4 265.6L1205.1 263.0L1203.6 260.3L1202.2 257.7L1200.7 255.1L1199.2 252.5L1197.7 250.0L1196.1 247.4L1194.6 244.9L1192.9 242.4L1191.3 239.9L1189.6 237.4L1187.9 235.0L1186.2 232.6L1184.4 230.2L1182.7 227.8L1180.8 225.5L1179.0 223.1L1177.1 220.8L1175.1 218.5L1173.2 216.3L1171.2 214.1L1169.2 211.9L1167.1 209.7L1165.1 207.5L1162.9 205.4L1160.8 203.3L1158.6 201.2L1156.4 199.2L1154.2 197.2L1152.0 195.2L1149.7 193.2L1147.4 191.3L1145.1 189.4L1142.7 187.5L1140.4 185.6L1138.0 183.8L1135.5 182.0L1133.1 180.2L1130.6 178.5L1128.2 176.8L1125.7 175.1L1123.1 173.4L1120.6 171.8L1118.0 170.2L1115.4 168.7L1112.8 167.1L1110.2 165.6L1107.6 164.2L1104.9 162.7L1102.3 161.3L1099.6 159.9L1096.9 158.6L1094.2 157.3L1091.5 156.0L1088.7 154.7L1086.0 153.5L1083.2 152.3L1080.5 151.2L1077.7 150.0L1074.9 148.9L1072.1 147.8L1069.3 146.8L1066.5 145.7L1063.7 144.7L1060.8 143.7L1058.0 142.8L1055.2 141.8L1052.3 140.9L1049.5 139.9L1046.6 139.0L1043.7 138.1L1040.9 137.3L1038.0 136.4L1035.1 135.5L1032.3 134.7L1029.4 133.9L1026.5 133.1L1023.6 132.3L1020.7 131.5L1017.8 130.8L1014.9 130.1L1012.0 129.4L1009.1 128.7L1006.2 128.0L1003.3 127.4L1000.3 126.8L997.4 126.2L994.5 125.6L991.5 125.1L988.5 124.6L985.6 124.1L982.6 123.7L979.6 123.2L976.6 122.8L973.6 122.5L970.6 122.2L967.6 121.9L964.6 121.7L961.6 121.5L958.5 121.4L955.5 121.4L952.5 121.4L949.5 121.5L946.5 121.7L943.6 121.9L940.6 122.2L937.6 122.5L934.6 122.9L931.7 123.3L928.7 123.7L925.7 124.2L922.8 124.7L919.8 125.2L916.9 125.6L913.9 126.1L910.9 126.6L908.0 127.1L905.0 127.6L902.0 128.0L899.1 128.5L896.1 128.9L893.1 129.3L890.2 129.8L887.2 130.2L884.2 130.5L881.2 130.9L878.3 131.3L875.3 131.7L872.3 132.0L869.3 132.3L866.3 132.7L863.4 133.0L860.4 133.3L857.4 133.6L854.4 133.9L851.4 134.2L848.4 134.5L845.5 134.7L842.5 135.0L839.5 135.3L836.5 135.5L833.5 135.8L830.5 136.0L827.5 136.2L824.5 136.5L821.5 136.7L818.5 136.9L815.5 137.1L812.5 137.4L809.6 137.6L806.6 137.8L803.6 138.0L800.6 138.2L797.6 138.4L794.6 138.6L791.6 138.8L788.6 138.9L785.6 139.1L782.6 139.3L779.6 139.5L776.6 139.7L773.6 139.9L770.6 140.1L767.6 140.2L764.6 140.4L761.6 140.6L758.6 140.8L755.6 141.0L752.6 141.2L749.6 141.4L746.6 141.6L743.6 141.8L740.6 142.0L737.6 142.2L734.7 142.4L731.7 142.6L728.7 142.8L725.7 143.0L722.7 143.2L719.7 143.5L716.7 143.7L713.7 143.9L710.7 144.2L707.7 144.4L704.7 144.7L701.7 144.9L698.8 145.2L695.8 145.4L692.8 145.7L689.8 146.0L686.8 146.3L683.8 146.6L680.9 146.9L677.9 147.2L674.9 147.6L671.9 147.9L668.9 148.2L666.0 148.6L663.0 148.9L660.0 149.3L657.0 149.7L654.1 150.1L651.1 150.5L648.1 150.9L645.2 151.3L642.2 151.7L639.2 152.2L636.3 152.6L633.3 153.1L630.3 153.5L627.4 154.0L624.4 154.5L621.5 155.0L618.5 155.5L615.6 156.0L612.6 156.5L609.6 157.1L606.7 157.6L603.7 158.2L600.8 158.7L597.9 159.3L594.9 159.9L592.0 160.5L589.0 161.1L586.1 161.8L583.1 162.4L580.2 163.0L577.3 163.7L574.3 164.4L571.4 165.1L568.5 165.8L565.6 166.5L562.6 167.2L559.7 167.9L556.8 168.7L553.9 169.5L551.0 170.3L548.1 171.1L545.2 171.9L542.3 172.7L539.4 173.6L536.5 174.5L533.7 175.5L530.8 176.4L528.0 177.5L525.2 178.5L522.4 179.6L519.6 180.7L516.9 181.9L514.1 183.1L511.4 184.3L508.7 185.6L506.1 187.0L503.4 188.4L500.8 189.8L498.2 191.3L495.6 192.8L493.0 194.3L490.5 195.9L488.0 197.6L485.5 199.2L483.0 200.9L480.6 202.6L478.2 204.4L475.7 206.2L473.4 208.0L471.0 209.9L468.7 211.8L466.3 213.7L464.1 215.6L461.8 217.6L459.5 219.6L457.3 221.6L455.1 223.7L452.9 225.8L450.7 227.8L448.6 230.0L446.5 232.1L444.4 234.2L442.3 236.4L440.3 238.6L438.2 240.8L436.2 243.0L434.2 245.3L432.3 247.5L430.3 249.8L428.4 252.1L426.5 254.4L424.6 256.7L422.7 259.0L420.9 261.4L419.0 263.8L417.2 266.1L415.4 268.5L413.7 271.0L411.9 273.4L410.2 275.8L408.4 278.3L406.7 280.7L405.0 283.2L403.3 285.7L401.7 288.2L400.0 290.7L398.4 293.2L396.8 295.7L395.2 298.3L393.6 300.8L392.0 303.4L390.5 305.9L388.9 308.5L387.4 311.1L385.9 313.7L384.4 316.3L382.9 318.9L381.4 321.5L379.9 324.2L378.5 326.8L377.0 329.4L375.6 332.1L374.2 334.7L372.7 337.4L371.3 340.0L369.9 342.7L368.6 345.4L367.2 348.0L365.8 350.7L364.5 353.4L363.1 356.1L361.8 358.8L360.4 361.5L359.1 364.2L357.8 366.9L356.5 369.6L355.2 372.3L353.9 375.0L352.6 377.7L351.3 380.4L350.0 383.1L348.7 385.8L347.4 388.5L346.2 391.2L344.9 394.0L343.6 396.7L342.4 399.4L341.1 402.1L339.9 404.8L338.6 407.5L337.4 410.3L336.1 413.0L334.9 415.7L333.6 418.4L332.3 421.1L331.1 423.8L329.8 426.6L328.6 429.3L327.3 432.0L326.1 434.7L324.8 437.4L323.6 440.1L322.3 442.8L321.0 445.5L319.8 448.2L318.5 450.9L317.2 453.6L315.9 456.3L314.5 458.9L313.1 461.6L311.6 464.2L310.1 466.8L308.5 469.3L306.8 471.9L305.0 474.4L303.2 476.8L301.2 479.3L299.1 481.6L296.9 483.9L294.5 486.1L292.1 487.9L289.7 489.2L287.2 489.7L284.8 489.4L282.6 488.2L280.5 486.4L278.6 484.1L276.7 481.4L274.9 478.7L273.2 476.0L271.5 473.5L269.8 470.9L268.1 468.5L266.4 466.0L264.7 463.6L263.1 461.2L261.4 458.7L259.8 456.3L258.1 453.8L256.4 451.4L254.8 448.9L253.1 446.4L251.5 443.9L249.8 441.4L248.2 438.9L246.5 436.4L244.8 433.9L243.2 431.4L241.5 428.9L239.9 426.4L238.2 423.9L236.5 421.3L234.9 418.8L233.2 416.3L231.6 413.8L229.9 411.3L228.2 408.7L226.6 406.2L224.9 403.7L223.2 401.2L221.6 398.7L219.9 396.2L218.2 393.7L216.5 391.2L214.9 388.8L213.2 386.3L211.5 383.8L209.8 381.4L208.1 378.9ZM203.9 374.8L205.6 377.2L207.3 379.7L209.0 382.2L210.7 384.6L212.4 387.1L214.1 389.6L215.7 392.1L217.4 394.6L219.1 397.1L220.8 399.6L222.4 402.1L224.1 404.6L225.8 407.1L227.4 409.6L229.1 412.1L230.7 414.7L232.4 417.2L234.1 419.7L235.7 422.2L237.4 424.7L239.0 427.3L240.7 429.8L242.3 432.3L244.0 434.8L245.7 437.3L247.3 439.8L249.0 442.3L250.6 444.7L252.3 447.2L254.0 449.7L255.6 452.1L257.3 454.6L258.9 457.0L260.6 459.4L262.3 461.9L263.9 464.3L265.6 466.8L267.3 469.3L269.1 471.9L270.8 474.6L272.6 477.3L274.4 479.9L276.4 482.2L278.5 484.1L280.7 485.2L283.1 485.5L285.5 485.0L288.0 483.8L290.4 482.0L292.7 479.8L294.9 477.5L297.0 475.1L299.0 472.7L300.9 470.2L302.7 467.7L304.3 465.2L305.9 462.6L307.5 460.0L308.9 457.4L310.4 454.8L311.7 452.1L313.0 449.4L314.3 446.8L315.6 444.1L316.9 441.4L318.2 438.7L319.4 436.0L320.7 433.2L321.9 430.5L323.2 427.8L324.4 425.1L325.7 422.4L326.9 419.7L328.2 417.0L329.5 414.3L330.7 411.5L332.0 408.8L333.2 406.1L334.5 403.4L335.7 400.7L337.0 398.0L338.2 395.2L339.5 392.5L340.8 389.8L342.0 387.1L343.3 384.4L344.6 381.7L345.8 378.9L347.1 376.2L348.4 373.5L349.7 370.8L351.0 368.1L352.3 365.4L353.6 362.7L355.0 360.0L356.3 357.3L357.6 354.6L359.0 351.9L360.3 349.3L361.7 346.6L363.0 343.9L364.4 341.2L365.8 338.5L367.2 335.9L368.6 333.2L370.0 330.6L371.4 327.9L372.9 325.3L374.3 322.6L375.8 320.0L377.2 317.4L378.7 314.8L380.2 312.1L381.7 309.5L383.2 307.0L384.8 304.4L386.3 301.8L387.9 299.2L389.5 296.7L391.0 294.1L392.6 291.6L394.3 289.0L395.9 286.5L397.5 284.0L399.2 281.5L400.9 279.0L402.6 276.6L404.3 274.1L406.0 271.7L407.7 269.2L409.5 266.8L411.3 264.4L413.1 262.0L414.9 259.6L416.7 257.3L418.6 254.9L420.4 252.6L422.3 250.2L424.2 247.9L426.2 245.6L428.1 243.4L430.1 241.1L432.1 238.9L434.1 236.7L436.1 234.4L438.2 232.3L440.2 230.1L442.3 227.9L444.5 225.8L446.6 223.7L448.8 221.6L450.9 219.5L453.2 217.5L455.4 215.5L457.6 213.5L459.9 211.5L462.2 209.6L464.5 207.6L466.9 205.7L469.2 203.9L471.6 202.1L474.0 200.3L476.4 198.5L478.9 196.8L481.4 195.1L483.8 193.4L486.4 191.8L488.9 190.2L491.5 188.6L494.0 187.1L496.6 185.7L499.3 184.2L501.9 182.8L504.6 181.5L507.3 180.2L510.0 178.9L512.7 177.7L515.5 176.6L518.2 175.4L521.0 174.3L523.8 173.3L526.7 172.3L529.5 171.3L532.4 170.4L535.2 169.5L538.1 168.6L541.0 167.7L543.9 166.9L546.8 166.1L549.7 165.3L552.6 164.5L555.6 163.8L558.5 163.1L561.4 162.3L564.3 161.6L567.3 160.9L570.2 160.2L573.1 159.6L576.1 158.9L579.0 158.2L581.9 157.6L584.9 157.0L587.8 156.4L590.8 155.8L593.7 155.2L596.6 154.6L599.6 154.0L602.5 153.5L605.5 152.9L608.4 152.4L611.4 151.8L614.4 151.3L617.3 150.8L620.3 150.3L623.2 149.8L626.2 149.4L629.2 148.9L632.1 148.5L635.1 148.0L638.0 147.6L641.0 147.1L644.0 146.7L647.0 146.3L649.9 145.9L652.9 145.5L655.9 145.2L658.8 144.8L661.8 144.4L664.8 144.1L667.8 143.7L670.7 143.4L673.7 143.1L676.7 142.8L679.7 142.5L682.7 142.2L685.7 141.9L688.6 141.6L691.6 141.3L694.6 141.0L697.6 140.8L700.6 140.5L703.6 140.3L706.6 140.0L709.6 139.8L712.5 139.5L715.5 139.3L718.5 139.1L721.5 138.9L724.5 138.6L727.5 138.4L730.5 138.2L733.5 138.0L736.5 137.8L739.5 137.6L742.5 137.4L745.5 137.2L748.5 137.0L751.5 136.8L754.5 136.7L757.5 136.5L760.5 136.3L763.5 136.1L766.5 135.9L769.5 135.7L772.4 135.5L775.4 135.4L778.4 135.2L781.4 135.0L784.4 134.8L787.4 134.6L790.4 134.4L793.4 134.2L796.4 134.0L799.4 133.8L802.4 133.6L805.4 133.4L808.4 133.2L811.4 133.0L814.4 132.8L817.4 132.6L820.4 132.3L823.4 132.1L826.4 131.9L829.3 131.6L832.3 131.4L835.3 131.1L838.3 130.9L841.3 130.6L844.3 130.3L847.3 130.0L850.3 129.7L853.2 129.5L856.2 129.1L859.2 128.8L862.2 128.5L865.2 128.2L868.2 127.8L871.1 127.5L874.1 127.1L877.1 126.8L880.1 126.4L883.0 126.0L886.0 125.6L889.0 125.2L892.0 124.8L894.9 124.3L897.9 123.9L900.9 123.4L903.8 123.0L906.8 122.5L909.7 122.0L912.7 121.5L915.7 121.0L918.6 120.5L921.6 120.0L924.6 119.6L927.5 119.1L930.5 118.7L933.5 118.4L936.4 118.0L939.4 117.7L942.4 117.5L945.4 117.3L948.4 117.2L951.4 117.2L954.4 117.2L957.4 117.3L960.4 117.5L963.4 117.7L966.4 118.0L969.4 118.3L972.5 118.7L975.5 119.1L978.4 119.5L981.4 120.0L984.4 120.4L987.4 121.0L990.3 121.5L993.3 122.1L996.2 122.6L999.1 123.2L1002.1 123.9L1005.0 124.5L1007.9 125.2L1010.8 125.9L1013.7 126.6L1016.6 127.4L1019.5 128.2L1022.4 128.9L1025.2 129.7L1028.1 130.6L1031.0 131.4L1033.9 132.2L1036.7 133.1L1039.6 134.0L1042.4 134.9L1045.3 135.8L1048.2 136.7L1051.0 137.7L1053.8 138.6L1056.7 139.6L1059.5 140.6L1062.3 141.6L1065.1 142.6L1068.0 143.7L1070.8 144.8L1073.5 145.9L1076.3 147.0L1079.1 148.2L1081.8 149.4L1084.6 150.6L1087.3 151.8L1090.1 153.1L1092.8 154.4L1095.5 155.8L1098.1 157.2L1100.8 158.6L1103.4 160.0L1106.1 161.5L1108.7 163.0L1111.3 164.5L1113.9 166.1L1116.4 167.7L1119.0 169.3L1121.5 170.9L1124.0 172.6L1126.5 174.3L1129.0 176.1L1131.4 177.8L1133.8 179.6L1136.2 181.5L1138.6 183.3L1140.9 185.2L1143.3 187.1L1145.6 189.0L1147.8 191.0L1150.1 193.0L1152.3 195.0L1154.5 197.1L1156.7 199.1L1158.8 201.2L1160.9 203.4L1163.0 205.5L1165.0 207.7L1167.1 209.9L1169.0 212.1L1171.0 214.4L1172.9 216.7L1174.8 219.0L1176.7 221.3L1178.5 223.7L1180.3 226.0L1182.1 228.4L1183.8 230.8L1185.5 233.3L1187.2 235.8L1188.8 238.2L1190.4 240.7L1192.0 243.3L1193.5 245.8L1195.1 248.4L1196.6 251.0L1198.0 253.6L1199.5 256.2L1200.9 258.8L1202.3 261.5L1203.7 264.1L1205.0 266.8L1206.3 269.5L1207.6 272.2L1208.9 274.9L1210.2 277.7L1211.4 280.4L1212.6 283.2L1213.8 285.9L1215.0 288.7L1216.1 291.5L1217.2 294.3L1218.3 297.1L1219.4 299.9L1220.5 302.7L1221.6 305.6L1222.6 308.4L1223.6 311.2L1224.6 314.1L1225.6 316.9L1226.6 319.8L1227.6 322.7L1228.5 325.5L1229.5 328.4L1230.4 331.3L1231.3 334.2L1232.2 337.0L1233.1 339.9L1234.0 342.8L1234.8 345.7L1235.7 348.6L1236.5 351.5L1237.4 354.3L1238.2 357.2L1239.0 360.1L1239.8 363.0L1240.6 365.9L1241.3 368.8L1242.1 371.7L1242.9 374.6L1243.6 377.5L1244.3 380.5L1245.0 383.4L1245.8 386.3L1246.5 389.2L1247.1 392.1L1247.8 395.0L1248.5 398.0L1249.2 400.9L1249.8 403.8L1250.5 406.7L1251.1 409.7L1251.7 412.6L1252.3 415.5L1252.9 418.5L1253.5 421.4L1254.1 424.3L1254.7 427.3L1255.3 430.2L1255.8 433.2L1256.4 436.1L1256.9 439.0L1257.5 442.0L1258.0 444.9L1258.5 447.9L1259.0 450.8L1259.5 453.8L1260.0 456.7L1260.5 459.7L1261.0 462.6L1261.5 465.6L1262.0 468.6L1262.4 471.5L1262.9 474.5L1263.4 477.4L1263.8 480.4L1264.2 483.4L1264.7 486.3L1265.1 489.3L1265.5 492.3L1265.9 495.2L1266.4 498.2L1266.8 501.2L1267.2 504.1L1267.6 507.1L1268.0 510.1L1268.3 513.1L1268.7 516.0L1269.1 519.0L1269.5 522.0L1269.8 525.0L1270.2 528.0L1270.6 530.9L1270.9 533.9L1271.3 536.9L1271.6 539.9L1272.0 542.9L1272.3 545.8L1272.6 548.8L1273.0 551.8L1273.3 554.8L1273.6 557.8L1273.9 560.8L1274.3 563.7L1274.6 566.7L1274.9 569.7L1275.2 572.7L1275.5 575.7L1275.8 578.7L1276.1 581.7L1276.4 584.6L1276.7 587.6L1277.0 590.6L1277.3 593.6L1277.6 596.6L1277.9 599.6L1278.2 602.6L1278.5 605.6L1278.8 608.6L1279.0 611.5L1279.3 614.5L1279.6 617.5L1279.9 620.5L1280.1 623.5L1280.4 626.5L1280.7 629.5L1280.9 632.5L1281.2 635.5L1281.5 638.5L1281.7 641.5L1282.0 644.5L1282.3 647.4L1282.5 650.4L1282.8 653.4L1283.0 656.4L1283.3 659.4L1283.5 662.4L1283.8 665.4L1284.0 668.4L1284.3 671.4L1284.5 674.4L1284.8 677.4L1285.0 680.4L1285.3 683.4L1285.5 686.3L1285.7 689.3L1286.0 692.3L1286.2 695.3L1286.4 698.3L1286.7 701.3L1286.9 704.3L1287.2 707.3L1287.4 710.3L1287.6 713.3L1287.9 716.3L1288.1 719.3L1288.3 722.2L1288.6 725.2L1288.8 728.2L1289.0 731.2L1289.3 734.2L1289.5 737.2L1289.8 740.2L1290.0 743.2L1290.3 746.2L1290.5 749.1L1290.8 752.1L1291.1 755.1L1291.3 758.1L1291.6 761.1L1291.9 764.1L1292.2 767.0L1292.5 770.0L1292.8 773.0L1293.2 776.0L1293.5 779.0L1293.8 781.9L1294.2 784.9L1294.6 787.9L1294.9 790.9L1295.3 793.8L1295.7 796.8L1296.1 799.8L1296.5 802.8L1297.0 805.7L1297.4 808.7L1297.9 811.7L1298.4 814.6L1298.8 817.6L1299.8 814.7L1300.8 811.8L1301.6 808.9L1302.3 806.0L1303.0 803.1L1303.6 800.1L1304.1 797.2L1304.6 794.2L1305.1 791.3L1305.4 788.3L1305.8 785.4L1306.1 782.4L1306.4 779.4L1306.7 776.4L1306.9 773.4L1307.2 770.4L1307.4 767.5L1307.6 764.5L1307.9 761.5L1308.1 758.5L1308.4 755.5L1308.6 752.5L1308.8 749.5L1309.1 746.5L1309.3 743.5L1309.6 740.5L1309.8 737.4L1310.1 734.4L1310.4 731.4L1310.6 728.4L1310.9 725.4L1311.1 722.4L1311.4 719.4L1311.7 716.4L1311.9 713.4L1312.2 710.4L1312.5 707.4L1312.7 704.4L1313.0 701.4L1313.3 698.4L1313.6 695.3L1313.8 692.3L1314.1 689.3L1314.4 686.3L1314.7 683.3L1315.0 680.3L1315.2 677.3L1315.5 674.3L1315.8 671.3L1316.1 668.4L1316.4 665.4L1316.6 662.4L1316.9 659.4L1317.2 656.4L1317.5 653.4L1317.8 650.4L1318.1 647.4L1318.4 644.5L1318.7 641.5L1319.0 638.5L1319.3 635.5L1319.6 632.5L1319.9 629.6L1320.2 626.6L1320.5 623.6L1320.8 620.6L1321.1 617.7L1321.4 614.7L1321.8 611.7L1322.1 608.7L1322.4 605.8L1322.8 602.8L1323.1 599.8L1323.4 596.8L1323.8 593.9L1324.1 590.9L1324.5 587.9L1324.9 584.9L1325.2 582.0L1325.6 579.0L1326.0 576.0L1326.4 573.0L1326.8 570.0L1327.2 567.1L1327.6 564.1L1328.0 561.1L1328.4 558.1L1328.9 555.1L1329.3 552.1L1329.7 549.1L1330.2 546.1L1330.6 543.1L1331.1 540.2L1331.6 537.2L1332.1 534.1L1332.6 531.1L1333.1 528.1L1333.6 525.1L1334.1 522.1L1334.6 519.1L1335.2 516.1L1335.7 513.1L1336.3 510.0L1336.9 507.0L1337.5 504.1L1338.2 501.1L1339.0 498.2L1339.8 495.3L1340.8 492.5L1341.8 489.8L1343.0 487.1L1344.3 484.5L1345.7 482.0L1347.3 479.5L1349.0 477.2L1350.9 475.0L1353.0 473.0L1355.4 471.6L1357.9 471.7L1360.4 472.9L1362.6 475.0L1364.6 477.7L1366.3 480.6L1367.9 483.5L1369.4 486.4L1370.7 489.2L1372.0 492.0L1373.2 494.8L1374.3 497.5L1375.4 500.2L1376.4 503.0L1377.4 505.7L1378.4 508.4L1379.3 511.2L1380.2 513.9L1381.2 516.7L1382.1 519.6L1383.1 522.4L1384.1 525.3L1385.1 528.3L1386.1 531.2L1387.1 534.1L1388.1 537.0L1389.0 539.9L1389.9 542.7L1390.8 545.5L1391.7 548.4L1392.6 551.2L1393.5 554.0L1394.4 556.8L1395.3 559.6L1396.3 562.5L1397.4 565.4L1398.5 568.4L1399.6 571.4L1400.9 574.5L1402.3 577.5L1403.7 579.6L1405.2 580.2L1406.8 579.1L1408.3 576.7L1409.7 573.8L1411.0 570.8L1412.2 567.7L1413.3 564.7L1414.3 561.8L1415.3 558.9L1416.3 556.1L1417.3 553.3L1418.2 550.5L1419.1 547.6L1419.9 544.8L1420.6 541.9L1421.3 539.0L1422.0 536.1L1422.6 533.2L1423.3 530.3L1423.8 527.3L1424.4 524.4L1425.0 521.4L1425.5 518.5L1426.0 515.5L1426.5 512.5L1427.0 509.5L1427.5 506.5L1428.0 503.6L1428.6 500.6L1429.1 497.6L1429.6 494.6L1430.2 491.7L1430.8 488.7L1431.4 485.8L1432.0 482.8L1432.6 479.9L1433.3 476.9L1434.0 474.0L1434.7 471.1L1435.4 468.2L1436.1 465.2L1436.8 462.3L1437.5 459.4L1438.2 456.5L1438.9 453.6L1439.7 450.7L1440.4 447.8L1441.2 444.8L1441.9 441.9L1442.6 439.0L1443.4 436.1L1444.1 433.2L1444.8 430.3L1445.5 427.4L1446.2 424.5L1446.9 421.5L1447.6 418.6L1448.3 415.7L1448.9 412.7L1449.6 409.8L1450.2 406.9L1450.9 403.9L1451.5 401.0L1452.2 398.1L1452.8 395.1L1453.5 392.2L1454.1 389.2L1454.8 386.3L1455.5 383.4L1456.1 380.4L1456.8 377.5L1457.5 374.6L1458.2 371.6L1458.9 368.7L1459.6 365.8L1460.3 362.9L1461.1 360.0L1461.9 357.1L1462.6 354.2L1463.4 351.3L1464.2 348.4L1465.1 345.5L1465.9 342.6L1466.8 339.7L1467.7 336.8L1468.6 334.0L1469.5 331.1L1470.4 328.3L1471.3 325.4L1472.3 322.6L1473.3 319.7L1474.3 316.9L1475.3 314.1L1476.3 311.2L1477.4 308.4L1478.4 305.6L1479.5 302.8L1480.6 300.0L1481.7 297.2L1482.8 294.4L1484.0 291.6L1485.1 288.9L1486.3 286.1L1487.5 283.3L1488.7 280.6L1489.9 277.8L1491.2 275.1L1492.4 272.4L1493.7 269.6L1495.0 266.9L1496.3 264.2L1497.6 261.5L1499.0 258.8L1500.3 256.1L1501.7 253.4L1503.1 250.8L1504.5 248.1L1505.9 245.4L1507.4 242.8L1508.8 240.1L1510.3 237.5L1511.8 234.9L1513.3 232.3L1514.9 229.7L1516.4 227.1L1518.0 224.5L1519.7 222.0L1521.3 219.5L1523.0 217.0L1524.7 214.5L1526.5 212.1L1528.3 209.7L1530.1 207.4L1532.0 205.0L1533.9 202.8L1535.9 200.5L1537.9 198.3L1539.9 196.2L1542.0 194.0L1544.2 192.0L1546.4 190.0L1548.7 188.0L1551.0 186.1L1553.4 184.3L1555.8 182.5L1558.3 180.8L1560.8 179.1L1563.5 177.5L1566.1 176.0L1574.5 176.0L1571.8 177.5L1569.1 179.1L1566.6 180.8L1564.1 182.5L1561.7 184.3L1559.3 186.1L1557.0 188.0L1554.7 190.0L1552.5 192.0L1550.3 194.0L1548.2 196.2L1546.2 198.3L1544.2 200.5L1542.2 202.8L1540.3 205.0L1538.4 207.4L1536.6 209.7L1534.8 212.1L1533.0 214.5L1531.3 217.0L1529.6 219.5L1528.0 222.0L1526.3 224.5L1524.7 227.1L1523.2 229.7L1521.6 232.3L1520.1 234.9L1518.6 237.5L1517.1 240.1L1515.7 242.8L1514.2 245.4L1512.8 248.1L1511.4 250.8L1510.0 253.4L1508.6 256.1L1507.3 258.8L1505.9 261.5L1504.6 264.2L1503.3 266.9L1502.0 269.6L1500.7 272.4L1499.5 275.1L1498.2 277.8L1497.0 280.6L1495.8 283.3L1494.6 286.1L1493.4 288.9L1492.3 291.6L1491.1 294.4L1490.0 297.2L1488.9 300.0L1487.8 302.8L1486.7 305.6L1485.7 308.4L1484.6 311.2L1483.6 314.1L1482.6 316.9L1481.6 319.7L1480.6 322.6L1479.6 325.4L1478.7 328.3L1477.8 331.1L1476.9 334.0L1476.0 336.8L1475.1 339.7L1474.2 342.6L1473.4 345.5L1472.5 348.4L1471.7 351.3L1470.9 354.2L1470.2 357.1L1469.4 360.0L1468.6 362.9L1467.9 365.8L1467.2 368.7L1466.5 371.6L1465.8 374.6L1465.1 377.5L1464.4 380.4L1463.8 383.4L1463.1 386.3L1462.4 389.2L1461.8 392.2L1461.1 395.1L1460.5 398.1L1459.8 401.0L1459.2 403.9L1458.5 406.9L1457.9 409.8L1457.2 412.7L1456.6 415.7L1455.9 418.6L1455.2 421.5L1454.5 424.5L1453.8 427.4L1453.1 430.3L1452.4 433.2L1451.7 436.1L1450.9 439.0L1450.2 441.9L1449.5 444.8L1448.7 447.8L1448.0 450.7L1447.2 453.6L1446.5 456.5L1445.8 459.4L1445.1 462.3L1444.4 465.2L1443.7 468.2L1443.0 471.1L1442.3 474.0L1441.6 476.9L1440.9 479.9L1440.3 482.8L1439.7 485.8L1439.1 488.7L1438.5 491.7L1437.9 494.6L1437.4 497.6L1436.9 500.6L1436.3 503.6L1435.8 506.5L1435.3 509.5L1434.8 512.5L1434.3 515.5L1433.8 518.5L1433.3 521.4L1432.7 524.4L1432.1 527.3L1431.6 530.3L1430.9 533.2L1430.3 536.1L1429.6 539.0L1428.9 541.9L1428.2 544.8L1427.4 547.6L1426.5 550.5L1425.6 553.3L1424.6 556.1L1423.6 558.9L1422.6 561.8L1421.6 564.7L1420.5 567.7L1419.3 570.8L1418.0 573.8L1416.6 576.7L1415.1 579.1L1413.5 580.2L1412.0 579.6L1410.6 577.5L1409.2 574.5L1407.9 571.4L1406.8 568.4L1405.7 565.4L1404.6 562.5L1403.6 559.6L1402.7 556.8L1401.8 554.0L1400.9 551.2L1400.0 548.4L1399.1 545.5L1398.2 542.7L1397.3 539.9L1396.4 537.0L1395.4 534.1L1394.4 531.2L1393.4 528.3L1392.4 525.3L1391.4 522.4L1390.4 519.6L1389.5 516.7L1388.5 513.9L1387.6 511.2L1386.7 508.4L1385.7 505.7L1384.7 503.0L1383.7 500.2L1382.6 497.5L1381.5 494.8L1380.3 492.0L1379.0 489.2L1377.7 486.4L1376.2 483.5L1374.6 480.6L1372.9 477.7L1370.9 475.0L1368.7 472.9L1366.2 471.7L1363.7 471.6L1361.3 473.0L1359.2 475.0L1357.3 477.2L1355.6 479.5L1354.0 482.0L1352.6 484.5L1351.3 487.1L1350.1 489.8L1349.1 492.5L1348.1 495.3L1347.3 498.2L1346.5 501.1L1345.8 504.1L1345.2 507.0L1344.6 510.0L1344.0 513.1L1343.5 516.1L1342.9 519.1L1342.4 522.1L1341.9 525.1L1341.4 528.1L1340.9 531.1L1340.4 534.1L1339.9 537.2L1339.4 540.2L1338.9 543.1L1338.5 546.1L1338.0 549.1L1337.6 552.1L1337.2 555.1L1336.7 558.1L1336.3 561.1L1335.9 564.1L1335.5 567.1L1335.1 570.0L1334.7 573.0L1334.3 576.0L1333.9 579.0L1333.5 582.0L1333.2 584.9L1332.8 587.9L1332.4 590.9L1332.1 593.9L1331.7 596.8L1331.4 599.8L1331.1 602.8L1330.7 605.8L1330.4 608.7L1330.1 611.7L1329.7 614.7L1329.4 617.7L1329.1 620.6L1328.8 623.6L1328.5 626.6L1328.2 629.6L1327.9 632.5L1327.6 635.5L1327.3 638.5L1327.0 641.5L1326.7 644.5L1326.4 647.4L1326.1 650.4L1325.8 653.4L1325.5 656.4L1325.2 659.4L1324.9 662.4L1324.7 665.4L1324.4 668.4L1324.1 671.3L1323.8 674.3L1323.5 677.3L1323.3 680.3L1323.0 683.3L1322.7 686.3L1322.4 689.3L1322.1 692.3L1321.9 695.3L1321.6 698.4L1321.3 701.4L1321.0 704.4L1320.8 707.4L1320.5 710.4L1320.2 713.4L1320.0 716.4L1319.7 719.4L1319.4 722.4L1319.2 725.4L1318.9 728.4L1318.7 731.4L1318.4 734.4L1318.1 737.4L1317.9 740.5L1317.6 743.5L1317.4 746.5L1317.1 749.5L1316.9 752.5L1316.7 755.5L1316.4 758.5L1316.2 761.5L1315.9 764.5L1315.7 767.5L1315.5 770.4L1315.2 773.4L1315.0 776.4L1314.7 779.4L1314.4 782.4L1314.1 785.4L1313.7 788.3L1313.4 791.3L1312.9 794.2L1312.4 797.2L1311.9 800.1L1311.3 803.1L1310.6 806.0L1309.9 808.9L1309.1 811.8L1308.1 814.7L1307.2 817.6L1306.7 814.6L1306.2 811.7L1305.7 808.7L1305.3 805.7L1304.8 802.8L1304.4 799.8L1304.0 796.8L1303.6 793.8L1303.2 790.9L1302.9 787.9L1302.5 784.9L1302.1 781.9L1301.8 779.0L1301.5 776.0L1301.1 773.0L1300.8 770.0L1300.5 767.0L1300.2 764.1L1299.9 761.1L1299.6 758.1L1299.4 755.1L1299.1 752.1L1298.8 749.1L1298.6 746.2L1298.3 743.2L1298.1 740.2L1297.8 737.2L1297.6 734.2L1297.3 731.2L1297.1 728.2L1296.9 725.2L1296.6 722.2L1296.4 719.3L1296.2 716.3L1295.9 713.3L1295.7 710.3L1295.5 707.3L1295.2 704.3L1295.0 701.3L1294.7 698.3L1294.5 695.3L1294.3 692.3L1294.0 689.3L1293.8 686.3L1293.6 683.4L1293.3 680.4L1293.1 677.4L1292.8 674.4L1292.6 671.4L1292.3 668.4L1292.1 665.4L1291.8 662.4L1291.6 659.4L1291.3 656.4L1291.1 653.4L1290.8 650.4L1290.6 647.4L1290.3 644.5L1290.0 641.5L1289.8 638.5L1289.5 635.5L1289.2 632.5L1289.0 629.5L1288.7 626.5L1288.4 623.5L1288.2 620.5L1287.9 617.5L1287.6 614.5L1287.3 611.5L1287.1 608.6L1286.8 605.6L1286.5 602.6L1286.2 599.6L1285.9 596.6L1285.6 593.6L1285.3 590.6L1285.0 587.6L1284.7 584.6L1284.4 581.7L1284.1 578.7L1283.8 575.7L1283.5 572.7L1283.2 569.7L1282.9 566.7L1282.6 563.7L1282.2 560.8L1281.9 557.8L1281.6 554.8L1281.3 551.8L1280.9 548.8L1280.6 545.8L1280.3 542.9L1279.9 539.9L1279.6 536.9L1279.2 533.9L1278.9 530.9L1278.5 528.0L1278.1 525.0L1277.8 522.0L1277.4 519.0L1277.0 516.0L1276.6 513.1L1276.3 510.1L1275.9 507.1L1275.5 504.1L1275.1 501.2L1274.7 498.2L1274.2 495.2L1273.8 492.3L1273.4 489.3L1273.0 486.3L1272.5 483.4L1272.1 480.4L1271.7 477.4L1271.2 474.5L1270.7 471.5L1270.3 468.6L1269.8 465.6L1269.3 462.6L1268.8 459.7L1268.3 456.7L1267.8 453.8L1267.3 450.8L1266.8 447.9L1266.3 444.9L1265.8 442.0L1265.2 439.0L1264.7 436.1L1264.1 433.2L1263.6 430.2L1263.0 427.3L1262.4 424.3L1261.8 421.4L1261.2 418.5L1260.6 415.5L1260.0 412.6L1259.4 409.7L1258.8 406.7L1258.1 403.8L1257.5 400.9L1256.8 398.0L1256.1 395.0L1255.4 392.1L1254.8 389.2L1254.1 386.3L1253.3 383.4L1252.6 380.5L1251.9 377.5L1251.2 374.6L1250.4 371.7L1249.6 368.8L1248.9 365.9L1248.1 363.0L1247.3 360.1L1246.5 357.2L1245.7 354.3L1244.8 351.5L1244.0 348.6L1243.1 345.7L1242.3 342.8L1241.4 339.9L1240.5 337.0L1239.6 334.2L1238.7 331.3L1237.8 328.4L1236.8 325.5L1235.9 322.7L1234.9 319.8L1233.9 316.9L1232.9 314.1L1231.9 311.2L1230.9 308.4L1229.9 305.6L1228.8 302.7L1227.7 299.9L1226.6 297.1L1225.5 294.3L1224.4 291.5L1223.3 288.7L1222.1 285.9L1220.9 283.2L1219.7 280.4L1218.5 277.7L1217.2 274.9L1215.9 272.2L1214.6 269.5L1213.3 266.8L1212.0 264.1L1210.6 261.5L1209.2 258.8L1207.8 256.2L1206.3 253.6L1204.9 251.0L1203.4 248.4L1201.8 245.8L1200.3 243.3L1198.7 240.7L1197.1 238.2L1195.5 235.8L1193.8 233.3L1192.1 230.8L1190.4 228.4L1188.6 226.0L1186.8 223.7L1185.0 221.3L1183.1 219.0L1181.2 216.7L1179.3 214.4L1177.3 212.1L1175.4 209.9L1173.3 207.7L1171.3 205.5L1169.2 203.4L1167.1 201.2L1165.0 199.1L1162.8 197.1L1160.6 195.0L1158.4 193.0L1156.1 191.0L1153.9 189.0L1151.6 187.1L1149.2 185.2L1146.9 183.3L1144.5 181.5L1142.1 179.6L1139.7 177.8L1137.3 176.1L1134.8 174.3L1132.3 172.6L1129.8 170.9L1127.3 169.3L1124.7 167.7L1122.2 166.1L1119.6 164.5L1117.0 163.0L1114.4 161.5L1111.7 160.0L1109.1 158.6L1106.4 157.2L1103.8 155.8L1101.1 154.4L1098.4 153.1L1095.6 151.8L1092.9 150.6L1090.1 149.4L1087.4 148.2L1084.6 147.0L1081.8 145.9L1079.1 144.8L1076.3 143.7L1073.4 142.6L1070.6 141.6L1067.8 140.6L1065.0 139.6L1062.1 138.6L1059.3 137.7L1056.5 136.7L1053.6 135.8L1050.7 134.9L1047.9 134.0L1045.0 133.1L1042.2 132.2L1039.3 131.4L1036.4 130.6L1033.5 129.7L1030.7 128.9L1027.8 128.2L1024.9 127.4L1022.0 126.6L1019.1 125.9L1016.2 125.2L1013.3 124.5L1010.4 123.9L1007.4 123.2L1004.5 122.6L1001.6 122.1L998.6 121.5L995.7 121.0L992.7 120.4L989.7 120.0L986.7 119.5L983.8 119.1L980.8 118.7L977.7 118.3L974.7 118.0L971.7 117.7L968.7 117.5L965.7 117.3L962.7 117.2L959.7 117.2L956.7 117.2L953.7 117.3L950.7 117.5L947.7 117.7L944.7 118.0L941.8 118.4L938.8 118.7L935.8 119.1L932.9 119.6L929.9 120.0L926.9 120.5L924.0 121.0L921.0 121.5L918.0 122.0L915.1 122.5L912.1 123.0L909.2 123.4L906.2 123.9L903.2 124.3L900.3 124.8L897.3 125.2L894.3 125.6L891.3 126.0L888.4 126.4L885.4 126.8L882.4 127.1L879.4 127.5L876.5 127.8L873.5 128.2L870.5 128.5L867.5 128.8L864.5 129.1L861.5 129.5L858.6 129.7L855.6 130.0L852.6 130.3L849.6 130.6L846.6 130.9L843.6 131.1L840.6 131.4L837.6 131.6L834.7 131.9L831.7 132.1L828.7 132.3L825.7 132.6L822.7 132.8L819.7 133.0L816.7 133.2L813.7 133.4L810.7 133.6L807.7 133.8L804.7 134.0L801.7 134.2L798.7 134.4L795.7 134.6L792.7 134.8L789.7 135.0L786.7 135.2L783.7 135.4L780.7 135.5L777.8 135.7L774.8 135.9L771.8 136.1L768.8 136.3L765.8 136.5L762.8 136.7L759.8 136.8L756.8 137.0L753.8 137.2L750.8 137.4L747.8 137.6L744.8 137.8L741.8 138.0L738.8 138.2L735.8 138.4L732.8 138.6L729.8 138.9L726.8 139.1L723.8 139.3L720.8 139.5L717.9 139.8L714.9 140.0L711.9 140.3L708.9 140.5L705.9 140.8L702.9 141.0L699.9 141.3L696.9 141.6L694.0 141.9L691.0 142.2L688.0 142.5L685.0 142.8L682.0 143.1L679.0 143.4L676.1 143.7L673.1 144.1L670.1 144.4L667.1 144.8L664.2 145.2L661.2 145.5L658.2 145.9L655.3 146.3L652.3 146.7L649.3 147.1L646.3 147.6L643.4 148.0L640.4 148.5L637.5 148.9L634.5 149.4L631.5 149.8L628.6 150.3L625.6 150.8L622.7 151.3L619.7 151.8L616.7 152.4L613.8 152.9L610.8 153.5L607.9 154.0L604.9 154.6L602.0 155.2L599.1 155.8L596.1 156.4L593.2 157.0L590.2 157.6L587.3 158.2L584.4 158.9L581.4 159.6L578.5 160.2L575.6 160.9L572.6 161.6L569.7 162.3L566.8 163.1L563.9 163.8L560.9 164.5L558.0 165.3L555.1 166.1L552.2 166.9L549.3 167.7L546.4 168.6L543.5 169.5L540.7 170.4L537.8 171.3L535.0 172.3L532.1 173.3L529.3 174.3L526.5 175.4L523.8 176.6L521.0 177.7L518.3 178.9L515.6 180.2L512.9 181.5L510.2 182.8L507.6 184.2L504.9 185.7L502.3 187.1L499.8 188.6L497.2 190.2L494.7 191.8L492.1 193.4L489.7 195.1L487.2 196.8L484.7 198.5L482.3 200.3L479.9 202.1L477.5 203.9L475.2 205.7L472.8 207.6L470.5 209.6L468.2 211.5L465.9 213.5L463.7 215.5L461.5 217.5L459.2 219.5L457.1 221.6L454.9 223.7L452.8 225.8L450.6 227.9L448.5 230.1L446.5 232.3L444.4 234.4L442.4 236.7L440.4 238.9L438.4 241.1L436.4 243.4L434.5 245.6L432.5 247.9L430.6 250.2L428.7 252.6L426.9 254.9L425.0 257.3L423.2 259.6L421.4 262.0L419.6 264.4L417.8 266.8L416.0 269.2L414.3 271.7L412.6 274.1L410.9 276.6L409.2 279.0L407.5 281.5L405.8 284.0L404.2 286.5L402.6 289.0L400.9 291.6L399.3 294.1L397.8 296.7L396.2 299.2L394.6 301.8L393.1 304.4L391.5 307.0L390.0 309.5L388.5 312.1L387.0 314.8L385.5 317.4L384.1 320.0L382.6 322.6L381.2 325.3L379.7 327.9L378.3 330.6L376.9 333.2L375.5 335.9L374.1 338.5L372.7 341.2L371.3 343.9L370.0 346.6L368.6 349.3L367.3 351.9L365.9 354.6L364.6 357.3L363.3 360.0L361.9 362.7L360.6 365.4L359.3 368.1L358.0 370.8L356.7 373.5L355.4 376.2L354.1 378.9L352.9 381.7L351.6 384.4L350.3 387.1L349.1 389.8L347.8 392.5L346.5 395.2L345.3 398.0L344.0 400.7L342.8 403.4L341.5 406.1L340.3 408.8L339.0 411.5L337.8 414.3L336.5 417.0L335.2 419.7L334.0 422.4L332.7 425.1L331.5 427.8L330.2 430.5L329.0 433.2L327.7 436.0L326.5 438.7L325.2 441.4L323.9 444.1L322.6 446.8L321.3 449.4L320.0 452.1L318.7 454.8L317.2 457.4L315.8 460.0L314.2 462.6L312.6 465.2L311.0 467.7L309.2 470.2L307.3 472.7L305.3 475.1L303.2 477.5L301.0 479.8L298.7 482.0L296.3 483.8L293.8 485.0L291.4 485.5L289.0 485.2L286.8 484.1L284.7 482.2L282.7 479.9L280.9 477.3L279.1 474.6L277.4 471.9L275.6 469.3L273.9 466.8L272.2 464.3L270.6 461.9L268.9 459.4L267.2 457.0L265.6 454.6L263.9 452.1L262.3 449.7L260.6 447.2L258.9 444.7L257.3 442.3L255.6 439.8L254.0 437.3L252.3 434.8L250.6 432.3L249.0 429.8L247.3 427.3L245.7 424.7L244.0 422.2L242.4 419.7L240.7 417.2L239.0 414.7L237.4 412.1L235.7 409.6L234.1 407.1L232.4 404.6L230.7 402.1L229.1 399.6L227.4 397.1L225.7 394.6L224.0 392.1L222.4 389.6L220.7 387.1L219.0 384.6L217.3 382.2L215.6 379.7L213.9 377.2L212.2 374.8Z" fill="#000" fill-rule="nonzero"/>
<path d="M208.1 374.8L209.8 377.2L211.5 379.7L213.2 382.2L214.9 384.6L216.5 387.1L218.2 389.6L219.9 392.1L221.6 394.6L223.2 397.1L224.9 399.6L226.6 402.1L228.2 404.6L229.9 407.1L231.6 409.6L233.2 412.1L234.9 414.7L236.5 417.2L238.2 419.7L239.9 422.2L241.5 424.7L243.2 427.3L244.8 429.8L246.5 432.3L248.2 434.8L249.8 437.3L251.5 439.8L253.1 442.3L254.8 444.7L256.4 447.2L258.1 449.7L259.8 452.1L261.4 454.6L263.1 457.0L264.7 459.4L266.4 461.9L268.1 464.3L269.8 466.8L271.5 469.3L273.2 471.9L274.9 474.6L276.7 477.3L278.6 479.9L280.5 482.2L282.6 484.1L284.8 485.2L287.2 485.5L289.7 485.0L292.1 483.8L294.5 482.0L296.9 479.8L299.1 477.5L301.2 475.1L303.2 472.7L305.0 470.2L306.8 467.7L308.5 465.2L310.1 462.6L311.6 460.0L313.1 457.4L314.5 454.8L315.9 452.1L317.2 449.4L318.5 446.8L319.8 444.1L321.0 441.4L322.3 438.7L323.6 436.0L324.8 433.2L326.1 430.5L327.3 427.8L328.6 425.1L329.8 422.4L331.1 419.7L332.3 417.0L333.6 414.3L334.9 411.5L336.1 408.8L337.4 406.1L338.6 403.4L339.9 400.7L341.1 398.0L342.4 395.2L343.6 392.5L344.9 389.8L346.2 387.1L347.4 384.4L348.7 381.7L350.0 378.9L351.3 376.2L352.6 373.5L353.9 370.8L355.2 368.1L356.5 365.4L357.8 362.7L359.1 360.0L360.4 357.3L361.8 354.6L363.1 351.9L364.5 349.3L365.8 346.6L367.2 343.9L368.6 341.2L369.9 338.5L371.3 335.9L372.7 333.2L374.2 330.6L375.6 327.9L377.0 325.3L378.5 322.6L379.9 320.0L381.4 317.4L382.9 314.8L384.4 312.1L385.9 309.5L387.4 307.0L388.9 304.4L390.5 301.8L392.0 299.2L393.6 296.7L395.2 294.1L396.8 291.6L398.4 289.0L400.0 286.5L401.7 284.0L403.3 281.5L405.0 279.0L406.7 276.6L408.4 274.1L410.2 271.7L411.9 269.2L413.7 266.8L415.4 264.4L417.2 262.0L419.0 259.6L420.9 257.3L422.7 254.9L424.6 252.6L426.5 250.2L428.4 247.9L430.3 245.6L432.3 243.4L434.2 241.1L436.2 238.9L438.2 236.7L440.3 234.4L442.3 232.3L444.4 230.1L446.5 227.9L448.6 225.8L450.7 223.7L452.9 221.6L455.1 219.5L457.3 217.5L459.5 215.5L461.8 213.5L464.1 211.5L466.3 209.6L468.7 207.6L471.0 205.7L473.4 203.9L475.7 202.1L478.2 200.3L480.6 198.5L483.0 196.8L485.5 195.1L488.0 193.4L490.5 191.8L493.0 190.2L495.6 188.6L498.2 187.1L500.8 185.7L503.4 184.2L506.1 182.8L508.7 181.5L511.4 180.2L514.1 178.9L516.9 177.7L519.6 176.6L522.4 175.4L525.2 174.3L528.0 173.3L530.8 172.3L533.7 171.3L536.5 170.4L539.4 169.5L542.3 168.6L545.2 167.7L548.1 166.9L551.0 166.1L553.9 165.3L556.8 164.5L559.7 163.8L562.6 163.1L565.6 162.3L568.5 161.6L571.4 160.9L574.3 160.2L577.3 159.6L580.2 158.9L583.1 158.2L586.1 157.6L589.0 157.0L592.0 156.4L594.9 155.8L597.9 155.2L600.8 154.6L603.7 154.0L606.7 153.5L609.6 152.9L612.6 152.4L615.6 151.8L618.5 151.3L621.5 150.8L624.4 150.3L627.4 149.8L630.3 149.4L633.3 148.9L636.3 148.5L639.2 148.0L642.2 147.6L645.2 147.1L648.1 146.7L651.1 146.3L654.1 145.9L657.0 145.5L660.0 145.2L663.0 144.8L666.0 144.4L668.9 144.1L671.9 143.7L674.9 143.4L677.9 143.1L680.9 142.8L683.8 142.5L686.8 142.2L689.8 141.9L692.8 141.6L695.8 141.3L698.8 141.0L701.7 140.8L704.7 140.5L707.7 140.3L710.7 140.0L713.7 139.8L716.7 139.5L719.7 139.3L722.7 139.1L725.7 138.9L728.7 138.6L731.7 138.4L734.7 138.2L737.6 138.0L740.6 137.8L743.6 137.6L746.6 137.4L749.6 137.2L752.6 137.0L755.6 136.8L758.6 136.7L761.6 136.5L764.6 136.3L767.6 136.1L770.6 135.9L773.6 135.7L776.6 135.5L779.6 135.4L782.6 135.2L785.6 135.0L788.6 134.8L791.6 134.6L794.6 134.4L797.6 134.2L800.6 134.0L803.6 133.8L806.6 133.6L809.6 133.4L812.5 133.2L815.5 133.0L818.5 132.8L821.5 132.6L824.5 132.3L827.5 132.1L830.5 131.9L833.5 131.6L836.5 131.4L839.5 131.1L842.5 130.9L845.5 130.6L848.4 130.3L851.4 130.0L854.4 129.7L857.4 129.5L860.4 129.1L863.4 128.8L866.3 128.5L869.3 128.2L872.3 127.8L875.3 127.5L878.3 127.1L881.2 126.8L884.2 126.4L887.2 126.0L890.2 125.6L893.1 125.2L896.1 124.8L899.1 124.3L902.0 123.9L905.0 123.4L908.0 123.0L910.9 122.5L913.9 122.0L916.9 121.5L919.8 121.0L922.8 120.5L925.7 120.0L928.7 119.6L931.7 119.1L934.6 118.7L937.6 118.4L940.6 118.0L943.6 117.7L946.5 117.5L949.5 117.3L952.5 117.2L955.5 117.2L958.5 117.2L961.6 117.3L964.6 117.5L967.6 117.7L970.6 118.0L973.6 118.3L976.6 118.7L979.6 119.1L982.6 119.5L985.6 120.0L988.5 120.4L991.5 121.0L994.5 121.5L997.4 122.1L1000.3 122.6L1003.3 123.2L1006.2 123.9L1009.1 124.5L1012.0 125.2L1014.9 125.9L1017.8 126.6L1020.7 127.4L1023.6 128.2L1026.5 128.9L1029.4 129.7L1032.3 130.6L1035.1 131.4L1038.0 132.2L1040.9 133.1L1043.7 134.0L1046.6 134.9L1049.5 135.8L1052.3 136.7L1055.2 137.7L1058.0 138.6L1060.8 139.6L1063.7 140.6L1066.5 141.6L1069.3 142.6L1072.1 143.7L1074.9 144.8L1077.7 145.9L1080.5 147.0L1083.2 148.2L1086.0 149.4L1088.7 150.6L1091.5 151.8L1094.2 153.1L1096.9 154.4L1099.6 155.8L1102.3 157.2L1104.9 158.6L1107.6 160.0L1110.2 161.5L1112.8 163.0L1115.4 164.5L1118.0 166.1L1120.6 167.7L1123.1 169.3L1125.7 170.9L1128.2 172.6L1130.6 174.3L1133.1 176.1L1135.5 177.8L1138.0 179.6L1140.4 181.5L1142.7 183.3L1145.1 185.2L1147.4 187.1L1149.7 189.0L1152.0 191.0L1154.2 193.0L1156.4 195.0L1158.6 197.1L1160.8 199.1L1162.9 201.2L1165.1 203.4L1167.1 205.5L1169.2 207.7L1171.2 209.9L1173.2 212.1L1175.1 214.4L1177.1 216.7L1179.0 219.0L1180.8 221.3L1182.7 223.7L1184.4 226.0L1186.2 228.4L1187.9 230.8L1189.6 233.3L1191.3 235.8L1192.9 238.2L1194.6 240.7L1196.1 243.3L1197.7 245.8L1199.2 248.4L1200.7 251.0L1202.2 253.6L1203.6 256.2L1205.1 258.8L1206.4 261.5L1207.8 264.1L1209.2 266.8L1210.5 269.5L1211.8 272.2L1213.1 274.9L1214.3 277.7L1215.5 280.4L1216.7 283.2L1217.9 285.9L1219.1 288.7L1220.3 291.5L1221.4 294.3L1222.5 297.1L1223.6 299.9L1224.7 302.7L1225.7 305.6L1226.8 308.4L1227.8 311.2L1228.8 314.1L1229.8 316.9L1230.8 319.8L1231.7 322.7L1232.7 325.5L1233.6 328.4L1234.5 331.3L1235.5 334.2L1236.4 337.0L1237.2 339.9L1238.1 342.8L1239.0 345.7L1239.8 348.6L1240.7 351.5L1241.5 354.3L1242.3 357.2L1243.1 360.1L1243.9 363.0L1244.7 365.9L1245.5 368.8L1246.3 371.7L1247.0 374.6L1247.7 377.5L1248.5 380.5L1249.2 383.4L1249.9 386.3L1250.6 389.2L1251.3 392.1L1252.0 395.0L1252.6 398.0L1253.3 400.9L1254.0 403.8L1254.6 406.7L1255.2 409.7L1255.9 412.6L1256.5 415.5L1257.1 418.5L1257.7 421.4L1258.3 424.3L1258.8 427.3L1259.4 430.2L1260.0 433.2L1260.5 436.1L1261.1 439.0L1261.6 442.0L1262.1 444.9L1262.7 447.9L1263.2 450.8L1263.7 453.8L1264.2 456.7L1264.7 459.7L1265.2 462.6L1265.7 465.6L1266.1 468.6L1266.6 471.5L1267.1 474.5L1267.5 477.4L1268.0 480.4L1268.4 483.4L1268.8 486.3L1269.3 489.3L1269.7 492.3L1270.1 495.2L1270.5 498.2L1270.9 501.2L1271.3 504.1L1271.7 507.1L1272.1 510.1L1272.5 513.1L1272.9 516.0L1273.2 519.0L1273.6 522.0L1274.0 525.0L1274.3 528.0L1274.7 530.9L1275.1 533.9L1275.4 536.9L1275.8 539.9L1276.1 542.9L1276.4 545.8L1276.8 548.8L1277.1 551.8L1277.4 554.8L1277.8 557.8L1278.1 560.8L1278.4 563.7L1278.7 566.7L1279.0 569.7L1279.4 572.7L1279.7 575.7L1280.0 578.7L1280.3 581.7L1280.6 584.6L1280.9 587.6L1281.2 590.6L1281.5 593.6L1281.8 596.6L1282.0 599.6L1282.3 602.6L1282.6 605.6L1282.9 608.6L1283.2 611.5L1283.5 614.5L1283.7 617.5L1284.0 620.5L1284.3 623.5L1284.6 626.5L1284.8 629.5L1285.1 632.5L1285.4 635.5L1285.6 638.5L1285.9 641.5L1286.1 644.5L1286.4 647.4L1286.7 650.4L1286.9 653.4L1287.2 656.4L1287.4 659.4L1287.7 662.4L1287.9 665.4L1288.2 668.4L1288.4 671.4L1288.7 674.4L1288.9 677.4L1289.2 680.4L1289.4 683.4L1289.6 686.3L1289.9 689.3L1290.1 692.3L1290.4 695.3L1290.6 698.3L1290.8 701.3L1291.1 704.3L1291.3 707.3L1291.5 710.3L1291.8 713.3L1292.0 716.3L1292.2 719.3L1292.5 722.2L1292.7 725.2L1292.9 728.2L1293.2 731.2L1293.4 734.2L1293.7 737.2L1293.9 740.2L1294.2 743.2L1294.4 746.2L1294.7 749.1L1295.0 752.1L1295.2 755.1L1295.5 758.1L1295.8 761.1L1296.1 764.1L1296.4 767.0L1296.7 770.0L1297.0 773.0L1297.3 776.0L1297.6 779.0L1298.0 781.9L1298.3 784.9L1298.7 787.9L1299.1 790.9L1299.5 793.8L1299.9 796.8L1300.3 799.8L1300.7 802.8L1301.1 805.7L1301.6 808.7L1302.0 811.7L1302.5 814.6L1303.0 817.6L1304.0 814.7L1304.9 811.8L1305.7 808.9L1306.5 806.0L1307.1 803.1L1307.7 800.1L1308.3 797.2L1308.8 794.2L1309.2 791.3L1309.6 788.3L1310.0 785.4L1310.3 782.4L1310.6 779.4L1310.8 776.4L1311.1 773.4L1311.3 770.4L1311.6 767.5L1311.8 764.5L1312.0 761.5L1312.3 758.5L1312.5 755.5L1312.7 752.5L1313.0 749.5L1313.2 746.5L1313.5 743.5L1313.7 740.5L1314.0 737.4L1314.2 734.4L1314.5 731.4L1314.8 728.4L1315.0 725.4L1315.3 722.4L1315.6 719.4L1315.8 716.4L1316.1 713.4L1316.4 710.4L1316.6 707.4L1316.9 704.4L1317.2 701.4L1317.4 698.4L1317.7 695.3L1318.0 692.3L1318.3 689.3L1318.5 686.3L1318.8 683.3L1319.1 680.3L1319.4 677.3L1319.7 674.3L1319.9 671.3L1320.2 668.4L1320.5 665.4L1320.8 662.4L1321.1 659.4L1321.4 656.4L1321.7 653.4L1321.9 650.4L1322.2 647.4L1322.5 644.5L1322.8 641.5L1323.1 638.5L1323.4 635.5L1323.7 632.5L1324.0 629.6L1324.3 626.6L1324.6 623.6L1324.9 620.6L1325.3 617.7L1325.6 614.7L1325.9 611.7L1326.2 608.7L1326.6 605.8L1326.9 602.8L1327.2 599.8L1327.6 596.8L1327.9 593.9L1328.3 590.9L1328.7 587.9L1329.0 584.9L1329.4 582.0L1329.8 579.0L1330.1 576.0L1330.5 573.0L1330.9 570.0L1331.3 567.1L1331.7 564.1L1332.2 561.1L1332.6 558.1L1333.0 555.1L1333.4 552.1L1333.9 549.1L1334.3 546.1L1334.8 543.1L1335.3 540.2L1335.7 537.2L1336.2 534.1L1336.7 531.1L1337.2 528.1L1337.7 525.1L1338.2 522.1L1338.8 519.1L1339.3 516.1L1339.9 513.1L1340.4 510.0L1341.0 507.0L1341.7 504.1L1342.4 501.1L1343.1 498.2L1344.0 495.3L1344.9 492.5L1346.0 489.8L1347.1 487.1L1348.4 484.5L1349.9 482.0L1351.4 479.5L1353.2 477.2L1355.1 475.0L1357.2 473.0L1359.5 471.6L1362.0 471.7L1364.5 472.9L1366.8 475.0L1368.7 477.7L1370.4 480.6L1372.0 483.5L1373.5 486.4L1374.9 489.2L1376.2 492.0L1377.4 494.8L1378.5 497.5L1379.6 500.2L1380.6 503.0L1381.6 505.7L1382.5 508.4L1383.5 511.2L1384.4 513.9L1385.3 516.7L1386.3 519.6L1387.3 522.4L1388.3 525.3L1389.3 528.3L1390.3 531.2L1391.2 534.1L1392.2 537.0L1393.1 539.9L1394.1 542.7L1394.9 545.5L1395.8 548.4L1396.7 551.2L1397.6 554.0L1398.5 556.8L1399.5 559.6L1400.5 562.5L1401.5 565.4L1402.6 568.4L1403.8 571.4L1405.1 574.5L1406.4 577.5L1407.9 579.6L1409.4 580.2L1410.9 579.1L1412.5 576.7L1413.9 573.8L1415.1 570.8L1416.3 567.7L1417.4 564.7L1418.5 561.8L1419.5 558.9L1420.5 556.1L1421.5 553.3L1422.4 550.5L1423.2 547.6L1424.0 544.8L1424.8 541.9L1425.5 539.0L1426.1 536.1L1426.8 533.2L1427.4 530.3L1428.0 527.3L1428.6 524.4L1429.1 521.4L1429.6 518.5L1430.2 515.5L1430.7 512.5L1431.2 509.5L1431.7 506.5L1432.2 503.6L1432.7 500.6L1433.2 497.6L1433.8 494.6L1434.3 491.7L1434.9 488.7L1435.5 485.8L1436.2 482.8L1436.8 479.9L1437.5 476.9L1438.1 474.0L1438.8 471.1L1439.5 468.2L1440.2 465.2L1440.9 462.3L1441.6 459.4L1442.4 456.5L1443.1 453.6L1443.8 450.7L1444.6 447.8L1445.3 444.8L1446.0 441.9L1446.8 439.0L1447.5 436.1L1448.2 433.2L1449.0 430.3L1449.7 427.4L1450.4 424.5L1451.1 421.5L1451.7 418.6L1452.4 415.7L1453.1 412.7L1453.7 409.8L1454.4 406.9L1455.0 403.9L1455.7 401.0L1456.3 398.1L1457.0 395.1L1457.6 392.2L1458.3 389.2L1458.9 386.3L1459.6 383.4L1460.3 380.4L1460.9 377.5L1461.6 374.6L1462.3 371.6L1463.0 368.7L1463.7 365.8L1464.5 362.9L1465.2 360.0L1466.0 357.1L1466.8 354.2L1467.6 351.3L1468.4 348.4L1469.2 345.5L1470.1 342.6L1470.9 339.7L1471.8 336.8L1472.7 334.0L1473.6 331.1L1474.5 328.3L1475.5 325.4L1476.5 322.6L1477.4 319.7L1478.4 316.9L1479.4 314.1L1480.5 311.2L1481.5 308.4L1482.6 305.6L1483.6 302.8L1484.7 300.0L1485.8 297.2L1487.0 294.4L1488.1 291.6L1489.3 288.9L1490.4 286.1L1491.6 283.3L1492.8 280.6L1494.1 277.8L1495.3 275.1L1496.6 272.4L1497.8 269.6L1499.1 266.9L1500.4 264.2L1501.8 261.5L1503.1 258.8L1504.5 256.1L1505.8 253.4L1507.2 250.8L1508.6 248.1L1510.1 245.4L1511.5 242.8L1513.0 240.1L1514.5 237.5L1516.0 234.9L1517.5 232.3L1519.0 229.7L1520.6 227.1L1522.2 224.5L1523.8 222.0L1525.5 219.5L1527.2 217.0L1528.9 214.5L1530.6 212.1L1532.4 209.7L1534.3 207.4L1536.1 205.0L1538.1 202.8L1540.0 200.5L1542.0 198.3L1544.1 196.2L1546.2 194.0L1548.3 192.0L1550.6 190.0L1552.8 188.0L1555.1 186.1L1557.5 184.3L1559.9 182.5L1562.4 180.8L1565.0 179.1L1567.6 177.5L1570.3 176.0" fill="none" stroke="#000" stroke-width="6.0" stroke-linejoin="round"/>
</g>
<clipPath id="c"><rect x="113.2" y="340" width="90" height="260"/></clipPath>
<text class="t" transform="translate(0,69.0) scale(1,1.018)"><tspan x="153.5" y="0">0</tspan></text>
<text class="t" transform="translate(0,240.0) scale(1,1.018)"><tspan x="132.6" y="4.9" font-size="70">-</tspan><tspan x="153.6" y="0">5</tspan></text>
<g clip-path="url(#c)"><text class="t" transform="translate(0,411.0) scale(1,1.018)"><tspan x="98.2" y="4.9" font-size="70">-</tspan><tspan x="119.2 153.5" y="0">10</tspan></text></g>
<g clip-path="url(#c)"><text class="t" transform="translate(0,581.6) scale(1,1.018)"><tspan x="98.3" y="4.9" font-size="70">-</tspan><tspan x="119.3 153.6" y="0">15</tspan></text></g>
<text class="t" transform="translate(0,752.5) scale(1,1.018)"><tspan x="98.2" y="4.9" font-size="70">-</tspan><tspan x="119.2 153.5" y="0">20</tspan></text>
<text class="t" transform="translate(0,926.0) scale(1,1.018)"><tspan x="98.3" y="4.9" font-size="70">-</tspan><tspan x="119.3 153.6" y="0">25</tspan></text>
<text class="t" transform="translate(0,1096.9) scale(1,1.018)"><tspan x="98.2" y="4.9" font-size="70">-</tspan><tspan x="119.2 153.5" y="0">30</tspan></text>
<text class="t" transform="translate(0,1142.7) scale(1,1.018)" x="173.3 207.6" y="0">57</text>
<text class="t" transform="translate(0,1142.7) scale(1,1.018)" x="345.9 380.2" y="0">58</text>
<text class="t" transform="translate(0,1142.7) scale(1,1.018)" x="515.6 549.9" y="0">59</text>
<text class="t" transform="translate(0,1142.7) scale(1,1.018)" x="683.1 717.4" y="0">60</text>
<text class="t" transform="translate(0,1142.7) scale(1,1.018)" x="854.1 888.4" y="0">61</text>
<text class="t" transform="translate(0,1142.7) scale(1,1.018)" x="1024.0 1058.3" y="0">62</text>
<text class="t" transform="translate(0,1142.7) scale(1,1.018)" x="1196.8 1231.0" y="0">63</text>
<text class="t" transform="translate(0,1142.7) scale(1,1.018)" x="1366.7 1401.0" y="0">64</text>
<text class="t" transform="translate(0,1142.7) scale(1,1.018)" x="1536.0 1570.3" y="0">65</text>
<text class="l" transform="translate(0,1196.9) scale(0.910,1)" font-size="52.5" x="781.4 813.0 837.2 874.3 910.9 947.2 980.6 1018.2 1045.5 1076.9 1099.8 1144.0 1185.2 1211.7" y="0">Frequency(GHz)</text>
<text class="l" transform="translate(79.7,668) rotate(-90)" font-size="49"><tspan x="-4.5" y="-10.3" font-size="44" stroke="#111" stroke-width="1.6">|</tspan><tspan x="14.1" y="0">S</tspan><tspan x="45.2" y="0" font-size="31.5">11</tspan><tspan x="86.3" y="-10.3" font-size="44" stroke="#111" stroke-width="1.6">|</tspan><tspan x="96" y="0"> </tspan><tspan x="115.2" y="4.3" font-size="73">(</tspan><tspan x="140.4" y="0" font-size="52">d</tspan><tspan x="174.5" y="0" font-size="51">B</tspan><tspan x="204.3" y="4.3" font-size="73">)</tspan></text>
<path d="M1459.5 833.5h4.5M1479.6 833.5h23.4M1519.6 833.5h23.4M1558.7 833.5h23.5" stroke="#e02a2a" stroke-width="5.6" fill="none"/>
<path d="M1458 893H1585" stroke="#7e88b4" stroke-width="4.4" stroke-dasharray="5.5 5.9" fill="none"/>
<path d="M1457 941H1598.5" stroke="#000" stroke-width="11" fill="none"/>
<text class="l" transform="translate(0,846.8) scale(0.850,1)" font-size="42.3" x="1882.7 1919.5 1943.2 1976.6" y="0">D2=1</text>
<text class="l" transform="translate(0,906.6) scale(0.850,1)" font-size="42.3" x="1882.7 1919.5 1943.2 1977.1" y="0">D2=4</text>
<text class="l" transform="translate(0,961.3) scale(0.850,1)" font-size="42.3" x="1882.7 1919.5 1943.2 1977.1" y="0">D2=3</text>
</svg></body></html>
